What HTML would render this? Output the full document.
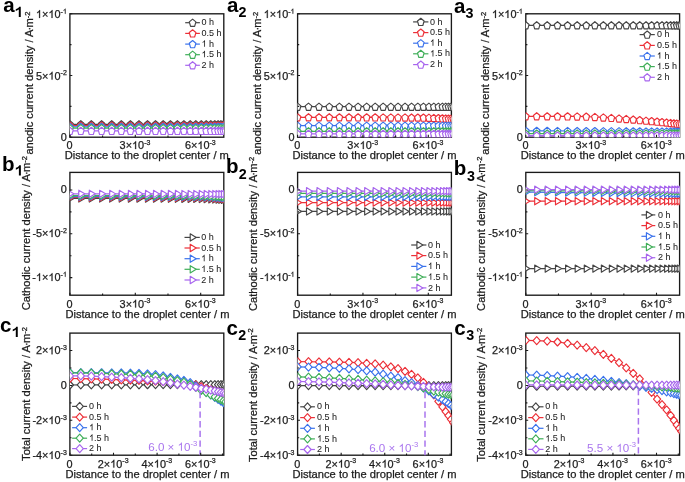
<!DOCTYPE html>
<html><head><meta charset="utf-8"><style>
html,body{margin:0;padding:0;background:#fff;}
body{width:685px;height:482px;overflow:hidden;}
svg{display:block;font-family:"Liberation Sans", sans-serif;will-change:transform;}
.o1{fill-opacity:0;stroke-opacity:0;}
</style></head><body>
<svg width="685" height="482" viewBox="0 0 685 482">
<rect width="685" height="482" fill="#fff"/>
<defs>
<path id="mp" d="M0 -3.6 L3.3 -0.85 L2.04 3.6 L-2.04 3.6 L-3.3 -0.85Z"/>
<path id="mt" d="M-2 -3.65L4 0L-2 3.65Z"/>
<path id="md" d="M0 -4L3.6 0L0 4L-3.6 0Z"/>
<clipPath id="cpa0"><rect x="69.9" y="13.8" width="153.9" height="123.4"/></clipPath>
<clipPath id="cpa1"><rect x="297.6" y="13.8" width="153.8" height="123.4"/></clipPath>
<clipPath id="cpa2"><rect x="525.8" y="13.8" width="153.8" height="123.4"/></clipPath>
<clipPath id="cpb0"><rect x="69.9" y="172.4" width="153.9" height="122.8"/></clipPath>
<clipPath id="cpb1"><rect x="297.6" y="172.4" width="153.8" height="122.8"/></clipPath>
<clipPath id="cpb2"><rect x="525.8" y="172.4" width="153.8" height="122.8"/></clipPath>
<clipPath id="cpc0"><rect x="69.9" y="333.1" width="153.9" height="122.1"/></clipPath>
<clipPath id="cpc1"><rect x="297.6" y="333.1" width="153.8" height="122.1"/></clipPath>
<clipPath id="cpc2"><rect x="525.8" y="333.1" width="153.8" height="122.1"/></clipPath>
</defs>
<rect x="69.9" y="13.8" width="153.9" height="123.4" fill="none" stroke="#1a1a1a" stroke-width="1.35"/>
<g clip-path="url(#cpa0)">
<path d="M69.9 124.3 L80.8 124.3 L91.3 124.3 L101.6 124.3 L111.7 124.3 L121.3 124.3 L130.4 124.3 L139 124.3 L147.5 124.3 L155.5 124.3 L163.2 124.3 L170.4 124.3 L177.4 124.3 L183.9 124.3 L190.2 124.3 L195.8 124.3 L201.3 124.3 L206.2 124.3 L210.8 124.3 L214.8 124.3 L218.1 124.3 L220.9 124.3 L223.4 124.3 L225.5 124.3" fill="none" stroke="#454545" stroke-width="1.2"/>
<g fill="#fff" stroke="#454545" stroke-width="1.15" stroke-linejoin="round"><use href="#mp" x="69.9" y="124.3"/><use href="#mp" x="80.8" y="124.3"/><use href="#mp" x="91.3" y="124.3"/><use href="#mp" x="101.6" y="124.3"/><use href="#mp" x="111.7" y="124.3"/><use href="#mp" x="121.3" y="124.3"/><use href="#mp" x="130.4" y="124.3"/><use href="#mp" x="139" y="124.3"/><use href="#mp" x="147.5" y="124.3"/><use href="#mp" x="155.5" y="124.3"/><use href="#mp" x="163.2" y="124.3"/><use href="#mp" x="170.4" y="124.3"/><use href="#mp" x="177.4" y="124.3"/><use href="#mp" x="183.9" y="124.3"/><use href="#mp" x="190.2" y="124.3"/><use href="#mp" x="195.8" y="124.3"/><use href="#mp" x="201.3" y="124.3"/><use href="#mp" x="206.2" y="124.3"/><use href="#mp" x="210.8" y="124.3"/><use href="#mp" x="214.8" y="124.3"/><use href="#mp" x="218.1" y="124.3"/><use href="#mp" x="220.9" y="124.3"/><use href="#mp" x="223.4" y="124.3"/><use href="#mp" x="225.5" y="124.3"/></g>
<path d="M69.9 125.6 L80.8 125.6 L91.3 125.6 L101.6 125.6 L111.7 125.6 L121.3 125.6 L130.4 125.6 L139 125.6 L147.5 125.6 L155.5 125.6 L163.2 125.6 L170.4 125.6 L177.4 125.6 L183.9 125.6 L190.2 125.6 L195.8 125.6 L201.3 125.6 L206.2 125.6 L210.8 125.6 L214.8 125.6 L218.1 125.6 L220.9 125.6 L223.4 125.6 L225.5 125.6" fill="none" stroke="#ec3038" stroke-width="1.2"/>
<g fill="#fff" stroke="#ec3038" stroke-width="1.15" stroke-linejoin="round"><use href="#mp" x="69.9" y="125.6"/><use href="#mp" x="80.8" y="125.6"/><use href="#mp" x="91.3" y="125.6"/><use href="#mp" x="101.6" y="125.6"/><use href="#mp" x="111.7" y="125.6"/><use href="#mp" x="121.3" y="125.6"/><use href="#mp" x="130.4" y="125.6"/><use href="#mp" x="139" y="125.6"/><use href="#mp" x="147.5" y="125.6"/><use href="#mp" x="155.5" y="125.6"/><use href="#mp" x="163.2" y="125.6"/><use href="#mp" x="170.4" y="125.6"/><use href="#mp" x="177.4" y="125.6"/><use href="#mp" x="183.9" y="125.6"/><use href="#mp" x="190.2" y="125.6"/><use href="#mp" x="195.8" y="125.6"/><use href="#mp" x="201.3" y="125.6"/><use href="#mp" x="206.2" y="125.6"/><use href="#mp" x="210.8" y="125.6"/><use href="#mp" x="214.8" y="125.6"/><use href="#mp" x="218.1" y="125.6"/><use href="#mp" x="220.9" y="125.6"/><use href="#mp" x="223.4" y="125.6"/><use href="#mp" x="225.5" y="125.6"/></g>
<path d="M69.9 126.8 L80.8 126.8 L91.3 126.8 L101.6 126.8 L111.7 126.8 L121.3 126.8 L130.4 126.8 L139 126.8 L147.5 126.8 L155.5 126.8 L163.2 126.8 L170.4 126.8 L177.4 126.8 L183.9 126.8 L190.2 126.8 L195.8 126.8 L201.3 126.8 L206.2 126.8 L210.8 126.8 L214.8 126.8 L218.1 126.8 L220.9 126.8 L223.4 126.8 L225.5 126.8" fill="none" stroke="#3a72ec" stroke-width="1.2"/>
<g fill="#fff" stroke="#3a72ec" stroke-width="1.15" stroke-linejoin="round"><use href="#mp" x="69.9" y="126.8"/><use href="#mp" x="80.8" y="126.8"/><use href="#mp" x="91.3" y="126.8"/><use href="#mp" x="101.6" y="126.8"/><use href="#mp" x="111.7" y="126.8"/><use href="#mp" x="121.3" y="126.8"/><use href="#mp" x="130.4" y="126.8"/><use href="#mp" x="139" y="126.8"/><use href="#mp" x="147.5" y="126.8"/><use href="#mp" x="155.5" y="126.8"/><use href="#mp" x="163.2" y="126.8"/><use href="#mp" x="170.4" y="126.8"/><use href="#mp" x="177.4" y="126.8"/><use href="#mp" x="183.9" y="126.8"/><use href="#mp" x="190.2" y="126.8"/><use href="#mp" x="195.8" y="126.8"/><use href="#mp" x="201.3" y="126.8"/><use href="#mp" x="206.2" y="126.8"/><use href="#mp" x="210.8" y="126.8"/><use href="#mp" x="214.8" y="126.8"/><use href="#mp" x="218.1" y="126.8"/><use href="#mp" x="220.9" y="126.8"/><use href="#mp" x="223.4" y="126.8"/><use href="#mp" x="225.5" y="126.8"/></g>
<path d="M69.9 128.2 L80.8 128.2 L91.3 128.2 L101.6 128.2 L111.7 128.2 L121.3 128.2 L130.4 128.2 L139 128.2 L147.5 128.2 L155.5 128.2 L163.2 128.2 L170.4 128.2 L177.4 128.2 L183.9 128.2 L190.2 128.2 L195.8 128.2 L201.3 128.2 L206.2 128.2 L210.8 128.2 L214.8 128.2 L218.1 128.2 L220.9 128.2 L223.4 128.2 L225.5 128.2" fill="none" stroke="#3fae58" stroke-width="1.2"/>
<g fill="#fff" stroke="#3fae58" stroke-width="1.15" stroke-linejoin="round"><use href="#mp" x="69.9" y="128.2"/><use href="#mp" x="80.8" y="128.2"/><use href="#mp" x="91.3" y="128.2"/><use href="#mp" x="101.6" y="128.2"/><use href="#mp" x="111.7" y="128.2"/><use href="#mp" x="121.3" y="128.2"/><use href="#mp" x="130.4" y="128.2"/><use href="#mp" x="139" y="128.2"/><use href="#mp" x="147.5" y="128.2"/><use href="#mp" x="155.5" y="128.2"/><use href="#mp" x="163.2" y="128.2"/><use href="#mp" x="170.4" y="128.2"/><use href="#mp" x="177.4" y="128.2"/><use href="#mp" x="183.9" y="128.2"/><use href="#mp" x="190.2" y="128.2"/><use href="#mp" x="195.8" y="128.2"/><use href="#mp" x="201.3" y="128.2"/><use href="#mp" x="206.2" y="128.2"/><use href="#mp" x="210.8" y="128.2"/><use href="#mp" x="214.8" y="128.2"/><use href="#mp" x="218.1" y="128.2"/><use href="#mp" x="220.9" y="128.2"/><use href="#mp" x="223.4" y="128.2"/><use href="#mp" x="225.5" y="128.2"/></g>
<path d="M69.9 130.9 L80.8 130.9 L91.3 130.9 L101.6 130.9 L111.7 130.9 L121.3 130.9 L130.4 130.9 L139 130.9 L147.5 130.9 L155.5 130.9 L163.2 130.9 L170.4 130.9 L177.4 130.9 L183.9 130.9 L190.2 130.9 L195.8 130.9 L201.3 130.9 L206.2 130.9 L210.8 130.9 L214.8 130.9 L218.1 130.9 L220.9 130.9 L223.4 130.9 L225.5 130.9" fill="none" stroke="#a866ee" stroke-width="1.2"/>
<g fill="#fff" stroke="#a866ee" stroke-width="1.15" stroke-linejoin="round"><use href="#mp" x="69.9" y="130.9"/><use href="#mp" x="80.8" y="130.9"/><use href="#mp" x="91.3" y="130.9"/><use href="#mp" x="101.6" y="130.9"/><use href="#mp" x="111.7" y="130.9"/><use href="#mp" x="121.3" y="130.9"/><use href="#mp" x="130.4" y="130.9"/><use href="#mp" x="139" y="130.9"/><use href="#mp" x="147.5" y="130.9"/><use href="#mp" x="155.5" y="130.9"/><use href="#mp" x="163.2" y="130.9"/><use href="#mp" x="170.4" y="130.9"/><use href="#mp" x="177.4" y="130.9"/><use href="#mp" x="183.9" y="130.9"/><use href="#mp" x="190.2" y="130.9"/><use href="#mp" x="195.8" y="130.9"/><use href="#mp" x="201.3" y="130.9"/><use href="#mp" x="206.2" y="130.9"/><use href="#mp" x="210.8" y="130.9"/><use href="#mp" x="214.8" y="130.9"/><use href="#mp" x="218.1" y="130.9"/><use href="#mp" x="220.9" y="130.9"/><use href="#mp" x="223.4" y="130.9"/><use href="#mp" x="225.5" y="130.9"/></g>
</g>
<path d="M69.9 13.8h2.4M69.9 75.5h2.4M69.9 137.2h2.4M69.9 106.35h1.6M69.9 44.65h1.6M69.9 137.2v-2.4M135.3 137.2v-2.4M200.69 137.2v-2.4M102.6 137.2v-1.6M167.99 137.2v-1.6" stroke="#1a1a1a" stroke-width="1.1" fill="none"/>
<text x="66.8" y="17.9" font-size="10.9" text-anchor="end" fill="#1c1c1c" stroke="#1c1c1c" stroke-width="0.25"><tspan class="o1">1</tspan>×<tspan class="o1">1</tspan>0<tspan font-size="7" dy="-4.2">-<tspan class="o1">1</tspan></tspan></text>
<text x="66.8" y="79.6" font-size="10.9" text-anchor="end" fill="#1c1c1c" stroke="#1c1c1c" stroke-width="0.25">5×<tspan class="o1">1</tspan>0<tspan font-size="7" dy="-4.2">-2</tspan></text>
<text x="66.8" y="141.3" font-size="10.9" text-anchor="end" fill="#1c1c1c" stroke="#1c1c1c" stroke-width="0.25">0</text>
<text x="69.6" y="149" font-size="10.9" text-anchor="middle" fill="#1c1c1c" stroke="#1c1c1c" stroke-width="0.25">0</text>
<text x="135" y="149" font-size="10.9" text-anchor="middle" fill="#1c1c1c" stroke="#1c1c1c" stroke-width="0.25">3×<tspan class="o1">1</tspan>0<tspan font-size="7" dy="-4.2">-3</tspan></text>
<text x="200.39" y="149" font-size="10.9" text-anchor="middle" fill="#1c1c1c" stroke="#1c1c1c" stroke-width="0.25">6×<tspan class="o1">1</tspan>0<tspan font-size="7" dy="-4.2">-3</tspan></text>
<text x="146.85" y="158.8" font-size="11.15" text-anchor="middle" fill="#1c1c1c" stroke="#1c1c1c" stroke-width="0.25">Distance to the droplet center / m</text>
<text transform="translate(33.3 154.6) rotate(-90)" x="0" y="0" font-size="11.15" fill="#1c1c1c" stroke="#1c1c1c" stroke-width="0.25">anodic current density / A<tspan dx="-0.9">·</tspan><tspan dx="-0.8">m</tspan><tspan font-size="7.6" dy="-3.3">-2</tspan></text>
<path d="M185.2 22.7H199.9" stroke="#454545" stroke-width="1.2"/>
<path d="M192.6 19.1 L195.9 21.85 L194.64 26.3 L190.56 26.3 L189.3 21.85Z" fill="#fff" stroke="#454545" stroke-width="1.15" stroke-linejoin="round"/>
<text x="201.6" y="25.3" font-size="9" text-anchor="start" fill="#1c1c1c" stroke="#1c1c1c" stroke-width="0.05">0 h</text>
<path d="M185.2 33.4H199.9" stroke="#ec3038" stroke-width="1.2"/>
<path d="M192.6 29.8 L195.9 32.55 L194.64 37 L190.56 37 L189.3 32.55Z" fill="#fff" stroke="#ec3038" stroke-width="1.15" stroke-linejoin="round"/>
<text x="201.6" y="36" font-size="9" text-anchor="start" fill="#1c1c1c" stroke="#1c1c1c" stroke-width="0.05">0.5 h</text>
<path d="M185.2 44.1H199.9" stroke="#3a72ec" stroke-width="1.2"/>
<path d="M192.6 40.5 L195.9 43.25 L194.64 47.7 L190.56 47.7 L189.3 43.25Z" fill="#fff" stroke="#3a72ec" stroke-width="1.15" stroke-linejoin="round"/>
<text x="201.6" y="46.7" font-size="9" text-anchor="start" fill="#1c1c1c" stroke="#1c1c1c" stroke-width="0.05"><tspan class="o1">1</tspan> h</text>
<path d="M185.2 54.7H199.9" stroke="#3fae58" stroke-width="1.2"/>
<path d="M192.6 51.1 L195.9 53.85 L194.64 58.3 L190.56 58.3 L189.3 53.85Z" fill="#fff" stroke="#3fae58" stroke-width="1.15" stroke-linejoin="round"/>
<text x="201.6" y="57.3" font-size="9" text-anchor="start" fill="#1c1c1c" stroke="#1c1c1c" stroke-width="0.05"><tspan class="o1">1</tspan>.5 h</text>
<path d="M185.2 65.3H199.9" stroke="#a866ee" stroke-width="1.2"/>
<path d="M192.6 61.7 L195.9 64.45 L194.64 68.9 L190.56 68.9 L189.3 64.45Z" fill="#fff" stroke="#a866ee" stroke-width="1.15" stroke-linejoin="round"/>
<text x="201.6" y="67.9" font-size="9" text-anchor="start" fill="#1c1c1c" stroke="#1c1c1c" stroke-width="0.05">2 h</text>
<text x="3.3" y="12" font-size="20.5" font-weight="bold" fill="#000">a</text>
<text x="14.9" y="16.9" font-size="14.3" font-weight="bold" fill="#000"><tspan class="o1">1</tspan></text>
<rect x="297.6" y="13.8" width="153.8" height="123.4" fill="none" stroke="#1a1a1a" stroke-width="1.35"/>
<g clip-path="url(#cpa1)">
<path d="M297.6 106.7 L308.49 106.7 L318.99 106.7 L329.28 106.7 L339.37 106.7 L348.97 106.7 L358.06 106.7 L366.66 106.7 L375.15 106.7 L383.14 106.7 L390.84 106.7 L398.03 106.7 L405.03 106.7 L411.53 106.7 L417.82 106.7 L423.42 106.7 L428.91 106.7 L433.81 106.7 L438.41 106.7 L442.41 106.7 L445.7 106.7 L448.5 106.7 L451 106.7 L453.1 106.7" fill="none" stroke="#454545" stroke-width="1.2"/>
<g fill="#fff" stroke="#454545" stroke-width="1.15" stroke-linejoin="round"><use href="#mp" x="297.6" y="106.7"/><use href="#mp" x="308.49" y="106.7"/><use href="#mp" x="318.99" y="106.7"/><use href="#mp" x="329.28" y="106.7"/><use href="#mp" x="339.37" y="106.7"/><use href="#mp" x="348.97" y="106.7"/><use href="#mp" x="358.06" y="106.7"/><use href="#mp" x="366.66" y="106.7"/><use href="#mp" x="375.15" y="106.7"/><use href="#mp" x="383.14" y="106.7"/><use href="#mp" x="390.84" y="106.7"/><use href="#mp" x="398.03" y="106.7"/><use href="#mp" x="405.03" y="106.7"/><use href="#mp" x="411.53" y="106.7"/><use href="#mp" x="417.82" y="106.7"/><use href="#mp" x="423.42" y="106.7"/><use href="#mp" x="428.91" y="106.7"/><use href="#mp" x="433.81" y="106.7"/><use href="#mp" x="438.41" y="106.7"/><use href="#mp" x="442.41" y="106.7"/><use href="#mp" x="445.7" y="106.7"/><use href="#mp" x="448.5" y="106.7"/><use href="#mp" x="451" y="106.7"/><use href="#mp" x="453.1" y="106.7"/></g>
<path d="M297.6 117.3 L308.49 117.3 L318.99 117.31 L329.28 117.32 L339.37 117.33 L348.97 117.34 L358.06 117.36 L366.66 117.38 L375.15 117.41 L383.14 117.43 L390.84 117.46 L398.03 117.49 L405.03 117.52 L411.53 117.55 L417.82 117.58 L423.42 117.63 L428.91 117.76 L433.81 117.95 L438.41 118.16 L442.41 118.35 L445.7 118.52 L448.5 118.66 L451 118.78 L453.1 118.88" fill="none" stroke="#ec3038" stroke-width="1.2"/>
<g fill="#fff" stroke="#ec3038" stroke-width="1.15" stroke-linejoin="round"><use href="#mp" x="297.6" y="117.3"/><use href="#mp" x="308.49" y="117.3"/><use href="#mp" x="318.99" y="117.31"/><use href="#mp" x="329.28" y="117.32"/><use href="#mp" x="339.37" y="117.33"/><use href="#mp" x="348.97" y="117.34"/><use href="#mp" x="358.06" y="117.36"/><use href="#mp" x="366.66" y="117.38"/><use href="#mp" x="375.15" y="117.41"/><use href="#mp" x="383.14" y="117.43"/><use href="#mp" x="390.84" y="117.46"/><use href="#mp" x="398.03" y="117.49"/><use href="#mp" x="405.03" y="117.52"/><use href="#mp" x="411.53" y="117.55"/><use href="#mp" x="417.82" y="117.58"/><use href="#mp" x="423.42" y="117.63"/><use href="#mp" x="428.91" y="117.76"/><use href="#mp" x="433.81" y="117.95"/><use href="#mp" x="438.41" y="118.16"/><use href="#mp" x="442.41" y="118.35"/><use href="#mp" x="445.7" y="118.52"/><use href="#mp" x="448.5" y="118.66"/><use href="#mp" x="451" y="118.78"/><use href="#mp" x="453.1" y="118.88"/></g>
<path d="M297.6 125.7 L308.49 125.7 L318.99 125.7 L329.28 125.7 L339.37 125.7 L348.97 125.7 L358.06 125.7 L366.66 125.7 L375.15 125.7 L383.14 125.7 L390.84 125.7 L398.03 125.7 L405.03 125.7 L411.53 125.7 L417.82 125.7 L423.42 125.7 L428.91 125.7 L433.81 125.7 L438.41 125.7 L442.41 125.7 L445.7 125.7 L448.5 125.7 L451 125.7 L453.1 125.7" fill="none" stroke="#3a72ec" stroke-width="1.2"/>
<g fill="#fff" stroke="#3a72ec" stroke-width="1.15" stroke-linejoin="round"><use href="#mp" x="297.6" y="125.7"/><use href="#mp" x="308.49" y="125.7"/><use href="#mp" x="318.99" y="125.7"/><use href="#mp" x="329.28" y="125.7"/><use href="#mp" x="339.37" y="125.7"/><use href="#mp" x="348.97" y="125.7"/><use href="#mp" x="358.06" y="125.7"/><use href="#mp" x="366.66" y="125.7"/><use href="#mp" x="375.15" y="125.7"/><use href="#mp" x="383.14" y="125.7"/><use href="#mp" x="390.84" y="125.7"/><use href="#mp" x="398.03" y="125.7"/><use href="#mp" x="405.03" y="125.7"/><use href="#mp" x="411.53" y="125.7"/><use href="#mp" x="417.82" y="125.7"/><use href="#mp" x="423.42" y="125.7"/><use href="#mp" x="428.91" y="125.7"/><use href="#mp" x="433.81" y="125.7"/><use href="#mp" x="438.41" y="125.7"/><use href="#mp" x="442.41" y="125.7"/><use href="#mp" x="445.7" y="125.7"/><use href="#mp" x="448.5" y="125.7"/><use href="#mp" x="451" y="125.7"/><use href="#mp" x="453.1" y="125.7"/></g>
<path d="M297.6 131.3 L308.49 131.3 L318.99 131.3 L329.28 131.3 L339.37 131.3 L348.97 131.3 L358.06 131.3 L366.66 131.3 L375.15 131.3 L383.14 131.3 L390.84 131.3 L398.03 131.3 L405.03 131.3 L411.53 131.3 L417.82 131.3 L423.42 131.3 L428.91 131.3 L433.81 131.3 L438.41 131.3 L442.41 131.3 L445.7 131.3 L448.5 131.3 L451 131.3 L453.1 131.3" fill="none" stroke="#3fae58" stroke-width="1.2"/>
<g fill="#fff" stroke="#3fae58" stroke-width="1.15" stroke-linejoin="round"><use href="#mp" x="297.6" y="131.3"/><use href="#mp" x="308.49" y="131.3"/><use href="#mp" x="318.99" y="131.3"/><use href="#mp" x="329.28" y="131.3"/><use href="#mp" x="339.37" y="131.3"/><use href="#mp" x="348.97" y="131.3"/><use href="#mp" x="358.06" y="131.3"/><use href="#mp" x="366.66" y="131.3"/><use href="#mp" x="375.15" y="131.3"/><use href="#mp" x="383.14" y="131.3"/><use href="#mp" x="390.84" y="131.3"/><use href="#mp" x="398.03" y="131.3"/><use href="#mp" x="405.03" y="131.3"/><use href="#mp" x="411.53" y="131.3"/><use href="#mp" x="417.82" y="131.3"/><use href="#mp" x="423.42" y="131.3"/><use href="#mp" x="428.91" y="131.3"/><use href="#mp" x="433.81" y="131.3"/><use href="#mp" x="438.41" y="131.3"/><use href="#mp" x="442.41" y="131.3"/><use href="#mp" x="445.7" y="131.3"/><use href="#mp" x="448.5" y="131.3"/><use href="#mp" x="451" y="131.3"/><use href="#mp" x="453.1" y="131.3"/></g>
<path d="M297.6 133.9 L308.49 133.9 L318.99 133.9 L329.28 133.9 L339.37 133.9 L348.97 133.9 L358.06 133.9 L366.66 133.9 L375.15 133.9 L383.14 133.9 L390.84 133.9 L398.03 133.9 L405.03 133.9 L411.53 133.9 L417.82 133.9 L423.42 133.9 L428.91 133.9 L433.81 133.9 L438.41 133.9 L442.41 133.9 L445.7 133.9 L448.5 133.9 L451 133.9 L453.1 133.9" fill="none" stroke="#a866ee" stroke-width="1.2"/>
<g fill="#fff" stroke="#a866ee" stroke-width="1.15" stroke-linejoin="round"><use href="#mp" x="297.6" y="133.9"/><use href="#mp" x="308.49" y="133.9"/><use href="#mp" x="318.99" y="133.9"/><use href="#mp" x="329.28" y="133.9"/><use href="#mp" x="339.37" y="133.9"/><use href="#mp" x="348.97" y="133.9"/><use href="#mp" x="358.06" y="133.9"/><use href="#mp" x="366.66" y="133.9"/><use href="#mp" x="375.15" y="133.9"/><use href="#mp" x="383.14" y="133.9"/><use href="#mp" x="390.84" y="133.9"/><use href="#mp" x="398.03" y="133.9"/><use href="#mp" x="405.03" y="133.9"/><use href="#mp" x="411.53" y="133.9"/><use href="#mp" x="417.82" y="133.9"/><use href="#mp" x="423.42" y="133.9"/><use href="#mp" x="428.91" y="133.9"/><use href="#mp" x="433.81" y="133.9"/><use href="#mp" x="438.41" y="133.9"/><use href="#mp" x="442.41" y="133.9"/><use href="#mp" x="445.7" y="133.9"/><use href="#mp" x="448.5" y="133.9"/><use href="#mp" x="451" y="133.9"/><use href="#mp" x="453.1" y="133.9"/></g>
</g>
<path d="M297.6 13.8h2.4M297.6 75.5h2.4M297.6 137.2h2.4M297.6 106.35h1.6M297.6 44.65h1.6M297.6 137.2v-2.4M362.95 137.2v-2.4M428.31 137.2v-2.4M330.28 137.2v-1.6M395.63 137.2v-1.6" stroke="#1a1a1a" stroke-width="1.1" fill="none"/>
<text x="294.5" y="17.9" font-size="10.9" text-anchor="end" fill="#1c1c1c" stroke="#1c1c1c" stroke-width="0.25"><tspan class="o1">1</tspan>×<tspan class="o1">1</tspan>0<tspan font-size="7" dy="-4.2">-<tspan class="o1">1</tspan></tspan></text>
<text x="294.5" y="79.6" font-size="10.9" text-anchor="end" fill="#1c1c1c" stroke="#1c1c1c" stroke-width="0.25">5×<tspan class="o1">1</tspan>0<tspan font-size="7" dy="-4.2">-2</tspan></text>
<text x="294.5" y="141.3" font-size="10.9" text-anchor="end" fill="#1c1c1c" stroke="#1c1c1c" stroke-width="0.25">0</text>
<text x="297.3" y="149" font-size="10.9" text-anchor="middle" fill="#1c1c1c" stroke="#1c1c1c" stroke-width="0.25">0</text>
<text x="362.65" y="149" font-size="10.9" text-anchor="middle" fill="#1c1c1c" stroke="#1c1c1c" stroke-width="0.25">3×<tspan class="o1">1</tspan>0<tspan font-size="7" dy="-4.2">-3</tspan></text>
<text x="428.01" y="149" font-size="10.9" text-anchor="middle" fill="#1c1c1c" stroke="#1c1c1c" stroke-width="0.25">6×<tspan class="o1">1</tspan>0<tspan font-size="7" dy="-4.2">-3</tspan></text>
<text x="374.5" y="158.8" font-size="11.15" text-anchor="middle" fill="#1c1c1c" stroke="#1c1c1c" stroke-width="0.25">Distance to the droplet center / m</text>
<text transform="translate(261 154.8) rotate(-90)" x="0" y="0" font-size="11.15" fill="#1c1c1c" stroke="#1c1c1c" stroke-width="0.25">anodic current density / A<tspan dx="-0.9">·</tspan><tspan dx="-0.8">m</tspan><tspan font-size="7.6" dy="-3.3">-2</tspan></text>
<path d="M413.1 21.9H428.4" stroke="#454545" stroke-width="1.2"/>
<path d="M420.8 18.3 L424.1 21.05 L422.84 25.5 L418.76 25.5 L417.5 21.05Z" fill="#fff" stroke="#454545" stroke-width="1.15" stroke-linejoin="round"/>
<text x="430" y="24.5" font-size="9" text-anchor="start" fill="#1c1c1c" stroke="#1c1c1c" stroke-width="0.05">0 h</text>
<path d="M413.1 32.6H428.4" stroke="#ec3038" stroke-width="1.2"/>
<path d="M420.8 29 L424.1 31.75 L422.84 36.2 L418.76 36.2 L417.5 31.75Z" fill="#fff" stroke="#ec3038" stroke-width="1.15" stroke-linejoin="round"/>
<text x="430" y="35.2" font-size="9" text-anchor="start" fill="#1c1c1c" stroke="#1c1c1c" stroke-width="0.05">0.5 h</text>
<path d="M413.1 43.2H428.4" stroke="#3a72ec" stroke-width="1.2"/>
<path d="M420.8 39.6 L424.1 42.35 L422.84 46.8 L418.76 46.8 L417.5 42.35Z" fill="#fff" stroke="#3a72ec" stroke-width="1.15" stroke-linejoin="round"/>
<text x="430" y="45.8" font-size="9" text-anchor="start" fill="#1c1c1c" stroke="#1c1c1c" stroke-width="0.05"><tspan class="o1">1</tspan> h</text>
<path d="M413.1 53.8H428.4" stroke="#3fae58" stroke-width="1.2"/>
<path d="M420.8 50.2 L424.1 52.95 L422.84 57.4 L418.76 57.4 L417.5 52.95Z" fill="#fff" stroke="#3fae58" stroke-width="1.15" stroke-linejoin="round"/>
<text x="430" y="56.4" font-size="9" text-anchor="start" fill="#1c1c1c" stroke="#1c1c1c" stroke-width="0.05"><tspan class="o1">1</tspan>.5 h</text>
<path d="M413.1 64.6H428.4" stroke="#a866ee" stroke-width="1.2"/>
<path d="M420.8 61 L424.1 63.75 L422.84 68.2 L418.76 68.2 L417.5 63.75Z" fill="#fff" stroke="#a866ee" stroke-width="1.15" stroke-linejoin="round"/>
<text x="430" y="67.2" font-size="9" text-anchor="start" fill="#1c1c1c" stroke="#1c1c1c" stroke-width="0.05">2 h</text>
<text x="227" y="11.8" font-size="20.5" font-weight="bold" fill="#000">a</text>
<text x="238.5" y="16.9" font-size="14.3" font-weight="bold" fill="#000">2</text>
<rect x="525.8" y="13.8" width="153.8" height="123.4" fill="none" stroke="#1a1a1a" stroke-width="1.35"/>
<g clip-path="url(#cpa2)">
<path d="M525.8 25.3 L536.69 25.3 L547.19 25.3 L557.48 25.3 L567.57 25.3 L577.17 25.3 L586.26 25.3 L594.86 25.3 L603.35 25.3 L611.34 25.3 L619.04 25.3 L626.23 25.3 L633.23 25.3 L639.73 25.3 L646.02 25.3 L651.62 25.3 L657.11 25.3 L662.01 25.3 L666.61 25.3 L670.61 25.3 L673.9 25.3 L676.7 25.3 L679.2 25.3 L681.3 25.3" fill="none" stroke="#454545" stroke-width="1.2"/>
<g fill="#fff" stroke="#454545" stroke-width="1.15" stroke-linejoin="round"><use href="#mp" x="525.8" y="25.3"/><use href="#mp" x="536.69" y="25.3"/><use href="#mp" x="547.19" y="25.3"/><use href="#mp" x="557.48" y="25.3"/><use href="#mp" x="567.57" y="25.3"/><use href="#mp" x="577.17" y="25.3"/><use href="#mp" x="586.26" y="25.3"/><use href="#mp" x="594.86" y="25.3"/><use href="#mp" x="603.35" y="25.3"/><use href="#mp" x="611.34" y="25.3"/><use href="#mp" x="619.04" y="25.3"/><use href="#mp" x="626.23" y="25.3"/><use href="#mp" x="633.23" y="25.3"/><use href="#mp" x="639.73" y="25.3"/><use href="#mp" x="646.02" y="25.3"/><use href="#mp" x="651.62" y="25.3"/><use href="#mp" x="657.11" y="25.3"/><use href="#mp" x="662.01" y="25.3"/><use href="#mp" x="666.61" y="25.3"/><use href="#mp" x="670.61" y="25.3"/><use href="#mp" x="673.9" y="25.3"/><use href="#mp" x="676.7" y="25.3"/><use href="#mp" x="679.2" y="25.3"/><use href="#mp" x="681.3" y="25.3"/></g>
<path d="M525.8 116.3 L536.69 116.31 L547.19 116.33 L557.48 116.36 L567.57 116.41 L577.17 116.47 L586.26 116.6 L594.86 116.98 L603.35 117.47 L611.34 117.94 L619.04 118.45 L626.23 118.98 L633.23 119.54 L639.73 120.11 L646.02 120.67 L651.62 121.16 L657.11 121.65 L662.01 122.1 L666.61 122.55 L670.61 122.96 L673.9 123.33 L676.7 123.66 L679.2 123.95 L681.3 124.21" fill="none" stroke="#ec3038" stroke-width="1.2"/>
<g fill="#fff" stroke="#ec3038" stroke-width="1.15" stroke-linejoin="round"><use href="#mp" x="525.8" y="116.3"/><use href="#mp" x="536.69" y="116.31"/><use href="#mp" x="547.19" y="116.33"/><use href="#mp" x="557.48" y="116.36"/><use href="#mp" x="567.57" y="116.41"/><use href="#mp" x="577.17" y="116.47"/><use href="#mp" x="586.26" y="116.6"/><use href="#mp" x="594.86" y="116.98"/><use href="#mp" x="603.35" y="117.47"/><use href="#mp" x="611.34" y="117.94"/><use href="#mp" x="619.04" y="118.45"/><use href="#mp" x="626.23" y="118.98"/><use href="#mp" x="633.23" y="119.54"/><use href="#mp" x="639.73" y="120.11"/><use href="#mp" x="646.02" y="120.67"/><use href="#mp" x="651.62" y="121.16"/><use href="#mp" x="657.11" y="121.65"/><use href="#mp" x="662.01" y="122.1"/><use href="#mp" x="666.61" y="122.55"/><use href="#mp" x="670.61" y="122.96"/><use href="#mp" x="673.9" y="123.33"/><use href="#mp" x="676.7" y="123.66"/><use href="#mp" x="679.2" y="123.95"/><use href="#mp" x="681.3" y="124.21"/></g>
<path d="M525.8 130.8 L536.69 130.86 L547.19 130.91 L557.48 130.96 L567.57 131.02 L577.17 131.07 L586.26 131.11 L594.86 131.16 L603.35 131.2 L611.34 131.24 L619.04 131.28 L626.23 131.32 L633.23 131.36 L639.73 131.39 L646.02 131.43 L651.62 131.45 L657.11 131.48 L662.01 131.51 L666.61 131.53 L670.61 131.55 L673.9 131.57 L676.7 131.58 L679.2 131.6 L681.3 131.61" fill="none" stroke="#3a72ec" stroke-width="1.2"/>
<g fill="#fff" stroke="#3a72ec" stroke-width="1.15" stroke-linejoin="round"><use href="#mp" x="525.8" y="130.8"/><use href="#mp" x="536.69" y="130.86"/><use href="#mp" x="547.19" y="130.91"/><use href="#mp" x="557.48" y="130.96"/><use href="#mp" x="567.57" y="131.02"/><use href="#mp" x="577.17" y="131.07"/><use href="#mp" x="586.26" y="131.11"/><use href="#mp" x="594.86" y="131.16"/><use href="#mp" x="603.35" y="131.2"/><use href="#mp" x="611.34" y="131.24"/><use href="#mp" x="619.04" y="131.28"/><use href="#mp" x="626.23" y="131.32"/><use href="#mp" x="633.23" y="131.36"/><use href="#mp" x="639.73" y="131.39"/><use href="#mp" x="646.02" y="131.43"/><use href="#mp" x="651.62" y="131.45"/><use href="#mp" x="657.11" y="131.48"/><use href="#mp" x="662.01" y="131.51"/><use href="#mp" x="666.61" y="131.53"/><use href="#mp" x="670.61" y="131.55"/><use href="#mp" x="673.9" y="131.57"/><use href="#mp" x="676.7" y="131.58"/><use href="#mp" x="679.2" y="131.6"/><use href="#mp" x="681.3" y="131.61"/></g>
<path d="M525.8 133.6 L536.69 133.59 L547.19 133.57 L557.48 133.56 L567.57 133.55 L577.17 133.53 L586.26 133.52 L594.86 133.51 L603.35 133.5 L611.34 133.49 L619.04 133.48 L626.23 133.47 L633.23 133.46 L639.73 133.45 L646.02 133.44 L651.62 133.44 L657.11 133.43 L662.01 133.42 L666.61 133.42 L670.61 133.41 L673.9 133.41 L676.7 133.4 L679.2 133.4 L681.3 133.4" fill="none" stroke="#3fae58" stroke-width="1.2"/>
<g fill="#fff" stroke="#3fae58" stroke-width="1.15" stroke-linejoin="round"><use href="#mp" x="525.8" y="133.6"/><use href="#mp" x="536.69" y="133.59"/><use href="#mp" x="547.19" y="133.57"/><use href="#mp" x="557.48" y="133.56"/><use href="#mp" x="567.57" y="133.55"/><use href="#mp" x="577.17" y="133.53"/><use href="#mp" x="586.26" y="133.52"/><use href="#mp" x="594.86" y="133.51"/><use href="#mp" x="603.35" y="133.5"/><use href="#mp" x="611.34" y="133.49"/><use href="#mp" x="619.04" y="133.48"/><use href="#mp" x="626.23" y="133.47"/><use href="#mp" x="633.23" y="133.46"/><use href="#mp" x="639.73" y="133.45"/><use href="#mp" x="646.02" y="133.44"/><use href="#mp" x="651.62" y="133.44"/><use href="#mp" x="657.11" y="133.43"/><use href="#mp" x="662.01" y="133.42"/><use href="#mp" x="666.61" y="133.42"/><use href="#mp" x="670.61" y="133.41"/><use href="#mp" x="673.9" y="133.41"/><use href="#mp" x="676.7" y="133.4"/><use href="#mp" x="679.2" y="133.4"/><use href="#mp" x="681.3" y="133.4"/></g>
<path d="M525.8 135.6 L536.69 135.6 L547.19 135.6 L557.48 135.6 L567.57 135.6 L577.17 135.6 L586.26 135.6 L594.86 135.6 L603.35 135.6 L611.34 135.6 L619.04 135.6 L626.23 135.6 L633.23 135.6 L639.73 135.6 L646.02 135.6 L651.62 135.6 L657.11 135.6 L662.01 135.6 L666.61 135.6 L670.61 135.6 L673.9 135.6 L676.7 135.6 L679.2 135.6 L681.3 135.6" fill="none" stroke="#a866ee" stroke-width="1.2"/>
<g fill="#fff" stroke="#a866ee" stroke-width="1.15" stroke-linejoin="round"><use href="#mp" x="525.8" y="135.6"/><use href="#mp" x="536.69" y="135.6"/><use href="#mp" x="547.19" y="135.6"/><use href="#mp" x="557.48" y="135.6"/><use href="#mp" x="567.57" y="135.6"/><use href="#mp" x="577.17" y="135.6"/><use href="#mp" x="586.26" y="135.6"/><use href="#mp" x="594.86" y="135.6"/><use href="#mp" x="603.35" y="135.6"/><use href="#mp" x="611.34" y="135.6"/><use href="#mp" x="619.04" y="135.6"/><use href="#mp" x="626.23" y="135.6"/><use href="#mp" x="633.23" y="135.6"/><use href="#mp" x="639.73" y="135.6"/><use href="#mp" x="646.02" y="135.6"/><use href="#mp" x="651.62" y="135.6"/><use href="#mp" x="657.11" y="135.6"/><use href="#mp" x="662.01" y="135.6"/><use href="#mp" x="666.61" y="135.6"/><use href="#mp" x="670.61" y="135.6"/><use href="#mp" x="673.9" y="135.6"/><use href="#mp" x="676.7" y="135.6"/><use href="#mp" x="679.2" y="135.6"/><use href="#mp" x="681.3" y="135.6"/></g>
</g>
<path d="M525.8 13.8h2.4M525.8 75.5h2.4M525.8 137.2h2.4M525.8 106.35h1.6M525.8 44.65h1.6M525.8 137.2v-2.4M591.15 137.2v-2.4M656.51 137.2v-2.4M558.48 137.2v-1.6M623.83 137.2v-1.6" stroke="#1a1a1a" stroke-width="1.1" fill="none"/>
<text x="522.7" y="17.9" font-size="10.9" text-anchor="end" fill="#1c1c1c" stroke="#1c1c1c" stroke-width="0.25"><tspan class="o1">1</tspan>×<tspan class="o1">1</tspan>0<tspan font-size="7" dy="-4.2">-<tspan class="o1">1</tspan></tspan></text>
<text x="522.7" y="79.6" font-size="10.9" text-anchor="end" fill="#1c1c1c" stroke="#1c1c1c" stroke-width="0.25">5×<tspan class="o1">1</tspan>0<tspan font-size="7" dy="-4.2">-2</tspan></text>
<text x="522.7" y="141.3" font-size="10.9" text-anchor="end" fill="#1c1c1c" stroke="#1c1c1c" stroke-width="0.25">0</text>
<text x="525.5" y="149" font-size="10.9" text-anchor="middle" fill="#1c1c1c" stroke="#1c1c1c" stroke-width="0.25">0</text>
<text x="590.85" y="149" font-size="10.9" text-anchor="middle" fill="#1c1c1c" stroke="#1c1c1c" stroke-width="0.25">3×<tspan class="o1">1</tspan>0<tspan font-size="7" dy="-4.2">-3</tspan></text>
<text x="656.21" y="149" font-size="10.9" text-anchor="middle" fill="#1c1c1c" stroke="#1c1c1c" stroke-width="0.25">6×<tspan class="o1">1</tspan>0<tspan font-size="7" dy="-4.2">-3</tspan></text>
<text x="602.7" y="158.8" font-size="11.15" text-anchor="middle" fill="#1c1c1c" stroke="#1c1c1c" stroke-width="0.25">Distance to the droplet center / m</text>
<text transform="translate(489.2 154.8) rotate(-90)" x="0" y="0" font-size="11.15" fill="#1c1c1c" stroke="#1c1c1c" stroke-width="0.25">anodic current density / A<tspan dx="-0.9">·</tspan><tspan dx="-0.8">m</tspan><tspan font-size="7.6" dy="-3.3">-2</tspan></text>
<path d="M639.6 34.6H654.8" stroke="#454545" stroke-width="1.2"/>
<path d="M647.2 31 L650.5 33.75 L649.24 38.2 L645.16 38.2 L643.9 33.75Z" fill="#fff" stroke="#454545" stroke-width="1.15" stroke-linejoin="round"/>
<text x="656.9" y="37.2" font-size="9" text-anchor="start" fill="#1c1c1c" stroke="#1c1c1c" stroke-width="0.05">0 h</text>
<path d="M639.6 45.4H654.8" stroke="#ec3038" stroke-width="1.2"/>
<path d="M647.2 41.8 L650.5 44.55 L649.24 49 L645.16 49 L643.9 44.55Z" fill="#fff" stroke="#ec3038" stroke-width="1.15" stroke-linejoin="round"/>
<text x="656.9" y="48" font-size="9" text-anchor="start" fill="#1c1c1c" stroke="#1c1c1c" stroke-width="0.05">0.5 h</text>
<path d="M639.6 56H654.8" stroke="#3a72ec" stroke-width="1.2"/>
<path d="M647.2 52.4 L650.5 55.15 L649.24 59.6 L645.16 59.6 L643.9 55.15Z" fill="#fff" stroke="#3a72ec" stroke-width="1.15" stroke-linejoin="round"/>
<text x="656.9" y="58.6" font-size="9" text-anchor="start" fill="#1c1c1c" stroke="#1c1c1c" stroke-width="0.05"><tspan class="o1">1</tspan> h</text>
<path d="M639.6 66.6H654.8" stroke="#3fae58" stroke-width="1.2"/>
<path d="M647.2 63 L650.5 65.75 L649.24 70.2 L645.16 70.2 L643.9 65.75Z" fill="#fff" stroke="#3fae58" stroke-width="1.15" stroke-linejoin="round"/>
<text x="656.9" y="69.2" font-size="9" text-anchor="start" fill="#1c1c1c" stroke="#1c1c1c" stroke-width="0.05"><tspan class="o1">1</tspan>.5 h</text>
<path d="M639.6 77.3H654.8" stroke="#a866ee" stroke-width="1.2"/>
<path d="M647.2 73.7 L650.5 76.45 L649.24 80.9 L645.16 80.9 L643.9 76.45Z" fill="#fff" stroke="#a866ee" stroke-width="1.15" stroke-linejoin="round"/>
<text x="656.9" y="79.9" font-size="9" text-anchor="start" fill="#1c1c1c" stroke="#1c1c1c" stroke-width="0.05">2 h</text>
<text x="454.1" y="12.6" font-size="20.5" font-weight="bold" fill="#000">a</text>
<text x="465.4" y="17.7" font-size="14.3" font-weight="bold" fill="#000">3</text>
<rect x="69.9" y="172.4" width="153.9" height="122.8" fill="none" stroke="#1a1a1a" stroke-width="1.35"/>
<g clip-path="url(#cpb0)">
<path d="M69.9 198.4 L80.8 198.4 L91.3 198.41 L101.6 198.42 L111.7 198.44 L121.3 198.46 L130.4 198.49 L139 198.52 L147.5 198.55 L155.5 198.58 L163.2 198.62 L170.4 198.66 L177.4 198.7 L183.9 198.74 L190.2 198.78 L195.8 198.83 L201.3 198.95 L206.2 199.1 L210.8 199.27 L214.8 199.43 L218.1 199.57 L220.9 199.69 L223.4 199.78 L225.5 199.86" fill="none" stroke="#454545" stroke-width="1.2"/>
<g fill="#fff" stroke="#454545" stroke-width="1.15" stroke-linejoin="round"><use href="#mt" x="69.9" y="198.4"/><use href="#mt" x="80.8" y="198.4"/><use href="#mt" x="91.3" y="198.41"/><use href="#mt" x="101.6" y="198.42"/><use href="#mt" x="111.7" y="198.44"/><use href="#mt" x="121.3" y="198.46"/><use href="#mt" x="130.4" y="198.49"/><use href="#mt" x="139" y="198.52"/><use href="#mt" x="147.5" y="198.55"/><use href="#mt" x="155.5" y="198.58"/><use href="#mt" x="163.2" y="198.62"/><use href="#mt" x="170.4" y="198.66"/><use href="#mt" x="177.4" y="198.7"/><use href="#mt" x="183.9" y="198.74"/><use href="#mt" x="190.2" y="198.78"/><use href="#mt" x="195.8" y="198.83"/><use href="#mt" x="201.3" y="198.95"/><use href="#mt" x="206.2" y="199.1"/><use href="#mt" x="210.8" y="199.27"/><use href="#mt" x="214.8" y="199.43"/><use href="#mt" x="218.1" y="199.57"/><use href="#mt" x="220.9" y="199.69"/><use href="#mt" x="223.4" y="199.78"/><use href="#mt" x="225.5" y="199.86"/></g>
<path d="M69.9 197.5 L80.8 197.5 L91.3 197.51 L101.6 197.52 L111.7 197.54 L121.3 197.56 L130.4 197.59 L139 197.62 L147.5 197.65 L155.5 197.68 L163.2 197.72 L170.4 197.76 L177.4 197.8 L183.9 197.84 L190.2 197.88 L195.8 197.93 L201.3 198.05 L206.2 198.2 L210.8 198.37 L214.8 198.53 L218.1 198.67 L220.9 198.79 L223.4 198.88 L225.5 198.96" fill="none" stroke="#ec3038" stroke-width="1.2"/>
<g fill="#fff" stroke="#ec3038" stroke-width="1.15" stroke-linejoin="round"><use href="#mt" x="69.9" y="197.5"/><use href="#mt" x="80.8" y="197.5"/><use href="#mt" x="91.3" y="197.51"/><use href="#mt" x="101.6" y="197.52"/><use href="#mt" x="111.7" y="197.54"/><use href="#mt" x="121.3" y="197.56"/><use href="#mt" x="130.4" y="197.59"/><use href="#mt" x="139" y="197.62"/><use href="#mt" x="147.5" y="197.65"/><use href="#mt" x="155.5" y="197.68"/><use href="#mt" x="163.2" y="197.72"/><use href="#mt" x="170.4" y="197.76"/><use href="#mt" x="177.4" y="197.8"/><use href="#mt" x="183.9" y="197.84"/><use href="#mt" x="190.2" y="197.88"/><use href="#mt" x="195.8" y="197.93"/><use href="#mt" x="201.3" y="198.05"/><use href="#mt" x="206.2" y="198.2"/><use href="#mt" x="210.8" y="198.37"/><use href="#mt" x="214.8" y="198.53"/><use href="#mt" x="218.1" y="198.67"/><use href="#mt" x="220.9" y="198.79"/><use href="#mt" x="223.4" y="198.88"/><use href="#mt" x="225.5" y="198.96"/></g>
<path d="M69.9 196.6 L80.8 196.6 L91.3 196.61 L101.6 196.62 L111.7 196.64 L121.3 196.66 L130.4 196.69 L139 196.72 L147.5 196.75 L155.5 196.78 L163.2 196.82 L170.4 196.86 L177.4 196.9 L183.9 196.94 L190.2 196.98 L195.8 197.03 L201.3 197.15 L206.2 197.3 L210.8 197.47 L214.8 197.63 L218.1 197.77 L220.9 197.89 L223.4 197.98 L225.5 198.06" fill="none" stroke="#3a72ec" stroke-width="1.2"/>
<g fill="#fff" stroke="#3a72ec" stroke-width="1.15" stroke-linejoin="round"><use href="#mt" x="69.9" y="196.6"/><use href="#mt" x="80.8" y="196.6"/><use href="#mt" x="91.3" y="196.61"/><use href="#mt" x="101.6" y="196.62"/><use href="#mt" x="111.7" y="196.64"/><use href="#mt" x="121.3" y="196.66"/><use href="#mt" x="130.4" y="196.69"/><use href="#mt" x="139" y="196.72"/><use href="#mt" x="147.5" y="196.75"/><use href="#mt" x="155.5" y="196.78"/><use href="#mt" x="163.2" y="196.82"/><use href="#mt" x="170.4" y="196.86"/><use href="#mt" x="177.4" y="196.9"/><use href="#mt" x="183.9" y="196.94"/><use href="#mt" x="190.2" y="196.98"/><use href="#mt" x="195.8" y="197.03"/><use href="#mt" x="201.3" y="197.15"/><use href="#mt" x="206.2" y="197.3"/><use href="#mt" x="210.8" y="197.47"/><use href="#mt" x="214.8" y="197.63"/><use href="#mt" x="218.1" y="197.77"/><use href="#mt" x="220.9" y="197.89"/><use href="#mt" x="223.4" y="197.98"/><use href="#mt" x="225.5" y="198.06"/></g>
<path d="M69.9 195.6 L80.8 195.6 L91.3 195.61 L101.6 195.62 L111.7 195.64 L121.3 195.66 L130.4 195.69 L139 195.72 L147.5 195.75 L155.5 195.78 L163.2 195.82 L170.4 195.86 L177.4 195.9 L183.9 195.94 L190.2 195.98 L195.8 196.03 L201.3 196.14 L206.2 196.27 L210.8 196.43 L214.8 196.57 L218.1 196.69 L220.9 196.8 L223.4 196.89 L225.5 196.96" fill="none" stroke="#3fae58" stroke-width="1.2"/>
<g fill="#fff" stroke="#3fae58" stroke-width="1.15" stroke-linejoin="round"><use href="#mt" x="69.9" y="195.6"/><use href="#mt" x="80.8" y="195.6"/><use href="#mt" x="91.3" y="195.61"/><use href="#mt" x="101.6" y="195.62"/><use href="#mt" x="111.7" y="195.64"/><use href="#mt" x="121.3" y="195.66"/><use href="#mt" x="130.4" y="195.69"/><use href="#mt" x="139" y="195.72"/><use href="#mt" x="147.5" y="195.75"/><use href="#mt" x="155.5" y="195.78"/><use href="#mt" x="163.2" y="195.82"/><use href="#mt" x="170.4" y="195.86"/><use href="#mt" x="177.4" y="195.9"/><use href="#mt" x="183.9" y="195.94"/><use href="#mt" x="190.2" y="195.98"/><use href="#mt" x="195.8" y="196.03"/><use href="#mt" x="201.3" y="196.14"/><use href="#mt" x="206.2" y="196.27"/><use href="#mt" x="210.8" y="196.43"/><use href="#mt" x="214.8" y="196.57"/><use href="#mt" x="218.1" y="196.69"/><use href="#mt" x="220.9" y="196.8"/><use href="#mt" x="223.4" y="196.89"/><use href="#mt" x="225.5" y="196.96"/></g>
<path d="M69.9 193.8 L80.8 193.82 L91.3 193.84 L101.6 193.86 L111.7 193.88 L121.3 193.9 L130.4 193.92 L139 193.93 L147.5 193.95 L155.5 193.97 L163.2 193.98 L170.4 194 L177.4 194.01 L183.9 194.02 L190.2 194.03 L195.8 194.05 L201.3 194.06 L206.2 194.07 L210.8 194.07 L214.8 194.08 L218.1 194.09 L220.9 194.09 L223.4 194.1 L225.5 194.1" fill="none" stroke="#a866ee" stroke-width="1.2"/>
<g fill="#fff" stroke="#a866ee" stroke-width="1.15" stroke-linejoin="round"><use href="#mt" x="69.9" y="193.8"/><use href="#mt" x="80.8" y="193.82"/><use href="#mt" x="91.3" y="193.84"/><use href="#mt" x="101.6" y="193.86"/><use href="#mt" x="111.7" y="193.88"/><use href="#mt" x="121.3" y="193.9"/><use href="#mt" x="130.4" y="193.92"/><use href="#mt" x="139" y="193.93"/><use href="#mt" x="147.5" y="193.95"/><use href="#mt" x="155.5" y="193.97"/><use href="#mt" x="163.2" y="193.98"/><use href="#mt" x="170.4" y="194"/><use href="#mt" x="177.4" y="194.01"/><use href="#mt" x="183.9" y="194.02"/><use href="#mt" x="190.2" y="194.03"/><use href="#mt" x="195.8" y="194.05"/><use href="#mt" x="201.3" y="194.06"/><use href="#mt" x="206.2" y="194.07"/><use href="#mt" x="210.8" y="194.07"/><use href="#mt" x="214.8" y="194.08"/><use href="#mt" x="218.1" y="194.09"/><use href="#mt" x="220.9" y="194.09"/><use href="#mt" x="223.4" y="194.1"/><use href="#mt" x="225.5" y="194.1"/></g>
</g>
<path d="M69.9 189.94h2.4M69.9 233.8h2.4M69.9 277.66h2.4M69.9 211.87h1.6M69.9 255.73h1.6M69.9 295.2v-2.4M135.3 295.2v-2.4M200.69 295.2v-2.4M102.6 295.2v-1.6M167.99 295.2v-1.6" stroke="#1a1a1a" stroke-width="1.1" fill="none"/>
<text x="66.8" y="193.24" font-size="10.9" text-anchor="end" fill="#1c1c1c" stroke="#1c1c1c" stroke-width="0.25">0</text>
<text x="66.8" y="237.1" font-size="10.9" text-anchor="end" fill="#1c1c1c" stroke="#1c1c1c" stroke-width="0.25">-5×<tspan class="o1">1</tspan>0<tspan font-size="7" dy="-4.2">-2</tspan></text>
<text x="66.8" y="280.96" font-size="10.9" text-anchor="end" fill="#1c1c1c" stroke="#1c1c1c" stroke-width="0.25">-<tspan class="o1">1</tspan>×<tspan class="o1">1</tspan>0<tspan font-size="7" dy="-4.2">-<tspan class="o1">1</tspan></tspan></text>
<text x="69.6" y="307.6" font-size="10.9" text-anchor="middle" fill="#1c1c1c" stroke="#1c1c1c" stroke-width="0.25">0</text>
<text x="135" y="307.6" font-size="10.9" text-anchor="middle" fill="#1c1c1c" stroke="#1c1c1c" stroke-width="0.25">3×<tspan class="o1">1</tspan>0<tspan font-size="7" dy="-4.2">-3</tspan></text>
<text x="200.39" y="307.6" font-size="10.9" text-anchor="middle" fill="#1c1c1c" stroke="#1c1c1c" stroke-width="0.25">6×<tspan class="o1">1</tspan>0<tspan font-size="7" dy="-4.2">-3</tspan></text>
<text x="147.45" y="317.7" font-size="11.15" text-anchor="middle" fill="#1c1c1c" stroke="#1c1c1c" stroke-width="0.25">Distance to the droplet center / m</text>
<text transform="translate(29.9 310.3) rotate(-90)" x="0" y="0" font-size="11.15" fill="#1c1c1c" stroke="#1c1c1c" stroke-width="0.25">Cathodic current density / A<tspan dx="-0.9">·</tspan><tspan dx="-0.8">m</tspan><tspan font-size="7.6" dy="-3.3">-2</tspan></text>
<path d="M184.5 237.4H199.8" stroke="#454545" stroke-width="1.2"/>
<path d="M190.2 233.75L196.2 237.4L190.2 241.05Z" fill="#fff" stroke="#454545" stroke-width="1.15" stroke-linejoin="round"/>
<text x="201.2" y="240" font-size="9" text-anchor="start" fill="#1c1c1c" stroke="#1c1c1c" stroke-width="0.05">0 h</text>
<path d="M184.5 248H199.8" stroke="#ec3038" stroke-width="1.2"/>
<path d="M190.2 244.35L196.2 248L190.2 251.65Z" fill="#fff" stroke="#ec3038" stroke-width="1.15" stroke-linejoin="round"/>
<text x="201.2" y="250.6" font-size="9" text-anchor="start" fill="#1c1c1c" stroke="#1c1c1c" stroke-width="0.05">0.5 h</text>
<path d="M184.5 258.7H199.8" stroke="#3a72ec" stroke-width="1.2"/>
<path d="M190.2 255.05L196.2 258.7L190.2 262.35Z" fill="#fff" stroke="#3a72ec" stroke-width="1.15" stroke-linejoin="round"/>
<text x="201.2" y="261.3" font-size="9" text-anchor="start" fill="#1c1c1c" stroke="#1c1c1c" stroke-width="0.05"><tspan class="o1">1</tspan> h</text>
<path d="M184.5 269.3H199.8" stroke="#3fae58" stroke-width="1.2"/>
<path d="M190.2 265.65L196.2 269.3L190.2 272.95Z" fill="#fff" stroke="#3fae58" stroke-width="1.15" stroke-linejoin="round"/>
<text x="201.2" y="271.9" font-size="9" text-anchor="start" fill="#1c1c1c" stroke="#1c1c1c" stroke-width="0.05"><tspan class="o1">1</tspan>.5 h</text>
<path d="M184.5 280H199.8" stroke="#a866ee" stroke-width="1.2"/>
<path d="M190.2 276.35L196.2 280L190.2 283.65Z" fill="#fff" stroke="#a866ee" stroke-width="1.15" stroke-linejoin="round"/>
<text x="201.2" y="282.6" font-size="9" text-anchor="start" fill="#1c1c1c" stroke="#1c1c1c" stroke-width="0.05">2 h</text>
<text x="2.1" y="170.6" font-size="20.5" font-weight="bold" fill="#000">b</text>
<text x="15" y="175.5" font-size="14.3" font-weight="bold" fill="#000"><tspan class="o1">1</tspan></text>
<rect x="297.6" y="172.4" width="153.8" height="122.8" fill="none" stroke="#1a1a1a" stroke-width="1.35"/>
<g clip-path="url(#cpb1)">
<path d="M297.6 211.4 L308.49 211.4 L318.99 211.4 L329.28 211.4 L339.37 211.4 L348.97 211.4 L358.06 211.4 L366.66 211.4 L375.15 211.4 L383.14 211.4 L390.84 211.4 L398.03 211.4 L405.03 211.4 L411.53 211.4 L417.82 211.4 L423.42 211.4 L428.91 211.4 L433.81 211.4 L438.41 211.4 L442.41 211.4 L445.7 211.4 L448.5 211.4 L451 211.4 L453.1 211.4" fill="none" stroke="#454545" stroke-width="1.2"/>
<g fill="#fff" stroke="#454545" stroke-width="1.15" stroke-linejoin="round"><use href="#mt" x="297.6" y="211.4"/><use href="#mt" x="308.49" y="211.4"/><use href="#mt" x="318.99" y="211.4"/><use href="#mt" x="329.28" y="211.4"/><use href="#mt" x="339.37" y="211.4"/><use href="#mt" x="348.97" y="211.4"/><use href="#mt" x="358.06" y="211.4"/><use href="#mt" x="366.66" y="211.4"/><use href="#mt" x="375.15" y="211.4"/><use href="#mt" x="383.14" y="211.4"/><use href="#mt" x="390.84" y="211.4"/><use href="#mt" x="398.03" y="211.4"/><use href="#mt" x="405.03" y="211.4"/><use href="#mt" x="411.53" y="211.4"/><use href="#mt" x="417.82" y="211.4"/><use href="#mt" x="423.42" y="211.4"/><use href="#mt" x="428.91" y="211.4"/><use href="#mt" x="433.81" y="211.4"/><use href="#mt" x="438.41" y="211.4"/><use href="#mt" x="442.41" y="211.4"/><use href="#mt" x="445.7" y="211.4"/><use href="#mt" x="448.5" y="211.4"/><use href="#mt" x="451" y="211.4"/><use href="#mt" x="453.1" y="211.4"/></g>
<path d="M297.6 202.6 L308.49 202.6 L318.99 202.6 L329.28 202.6 L339.37 202.6 L348.97 202.6 L358.06 202.6 L366.66 202.6 L375.15 202.6 L383.14 202.6 L390.84 202.6 L398.03 202.6 L405.03 202.6 L411.53 202.6 L417.82 202.6 L423.42 202.6 L428.91 202.6 L433.81 202.6 L438.41 202.6 L442.41 202.6 L445.7 202.6 L448.5 202.6 L451 202.6 L453.1 202.6" fill="none" stroke="#ec3038" stroke-width="1.2"/>
<g fill="#fff" stroke="#ec3038" stroke-width="1.15" stroke-linejoin="round"><use href="#mt" x="297.6" y="202.6"/><use href="#mt" x="308.49" y="202.6"/><use href="#mt" x="318.99" y="202.6"/><use href="#mt" x="329.28" y="202.6"/><use href="#mt" x="339.37" y="202.6"/><use href="#mt" x="348.97" y="202.6"/><use href="#mt" x="358.06" y="202.6"/><use href="#mt" x="366.66" y="202.6"/><use href="#mt" x="375.15" y="202.6"/><use href="#mt" x="383.14" y="202.6"/><use href="#mt" x="390.84" y="202.6"/><use href="#mt" x="398.03" y="202.6"/><use href="#mt" x="405.03" y="202.6"/><use href="#mt" x="411.53" y="202.6"/><use href="#mt" x="417.82" y="202.6"/><use href="#mt" x="423.42" y="202.6"/><use href="#mt" x="428.91" y="202.6"/><use href="#mt" x="433.81" y="202.6"/><use href="#mt" x="438.41" y="202.6"/><use href="#mt" x="442.41" y="202.6"/><use href="#mt" x="445.7" y="202.6"/><use href="#mt" x="448.5" y="202.6"/><use href="#mt" x="451" y="202.6"/><use href="#mt" x="453.1" y="202.6"/></g>
<path d="M297.6 196.8 L308.49 196.8 L318.99 196.8 L329.28 196.8 L339.37 196.8 L348.97 196.8 L358.06 196.8 L366.66 196.8 L375.15 196.8 L383.14 196.8 L390.84 196.8 L398.03 196.8 L405.03 196.8 L411.53 196.8 L417.82 196.8 L423.42 196.8 L428.91 196.8 L433.81 196.8 L438.41 196.8 L442.41 196.8 L445.7 196.8 L448.5 196.8 L451 196.8 L453.1 196.8" fill="none" stroke="#3a72ec" stroke-width="1.2"/>
<g fill="#fff" stroke="#3a72ec" stroke-width="1.15" stroke-linejoin="round"><use href="#mt" x="297.6" y="196.8"/><use href="#mt" x="308.49" y="196.8"/><use href="#mt" x="318.99" y="196.8"/><use href="#mt" x="329.28" y="196.8"/><use href="#mt" x="339.37" y="196.8"/><use href="#mt" x="348.97" y="196.8"/><use href="#mt" x="358.06" y="196.8"/><use href="#mt" x="366.66" y="196.8"/><use href="#mt" x="375.15" y="196.8"/><use href="#mt" x="383.14" y="196.8"/><use href="#mt" x="390.84" y="196.8"/><use href="#mt" x="398.03" y="196.8"/><use href="#mt" x="405.03" y="196.8"/><use href="#mt" x="411.53" y="196.8"/><use href="#mt" x="417.82" y="196.8"/><use href="#mt" x="423.42" y="196.8"/><use href="#mt" x="428.91" y="196.8"/><use href="#mt" x="433.81" y="196.8"/><use href="#mt" x="438.41" y="196.8"/><use href="#mt" x="442.41" y="196.8"/><use href="#mt" x="445.7" y="196.8"/><use href="#mt" x="448.5" y="196.8"/><use href="#mt" x="451" y="196.8"/><use href="#mt" x="453.1" y="196.8"/></g>
<path d="M297.6 193.3 L308.49 193.3 L318.99 193.3 L329.28 193.3 L339.37 193.3 L348.97 193.3 L358.06 193.3 L366.66 193.3 L375.15 193.3 L383.14 193.3 L390.84 193.3 L398.03 193.3 L405.03 193.3 L411.53 193.3 L417.82 193.3 L423.42 193.3 L428.91 193.3 L433.81 193.3 L438.41 193.3 L442.41 193.3 L445.7 193.3 L448.5 193.3 L451 193.3 L453.1 193.3" fill="none" stroke="#3fae58" stroke-width="1.2"/>
<g fill="#fff" stroke="#3fae58" stroke-width="1.15" stroke-linejoin="round"><use href="#mt" x="297.6" y="193.3"/><use href="#mt" x="308.49" y="193.3"/><use href="#mt" x="318.99" y="193.3"/><use href="#mt" x="329.28" y="193.3"/><use href="#mt" x="339.37" y="193.3"/><use href="#mt" x="348.97" y="193.3"/><use href="#mt" x="358.06" y="193.3"/><use href="#mt" x="366.66" y="193.3"/><use href="#mt" x="375.15" y="193.3"/><use href="#mt" x="383.14" y="193.3"/><use href="#mt" x="390.84" y="193.3"/><use href="#mt" x="398.03" y="193.3"/><use href="#mt" x="405.03" y="193.3"/><use href="#mt" x="411.53" y="193.3"/><use href="#mt" x="417.82" y="193.3"/><use href="#mt" x="423.42" y="193.3"/><use href="#mt" x="428.91" y="193.3"/><use href="#mt" x="433.81" y="193.3"/><use href="#mt" x="438.41" y="193.3"/><use href="#mt" x="442.41" y="193.3"/><use href="#mt" x="445.7" y="193.3"/><use href="#mt" x="448.5" y="193.3"/><use href="#mt" x="451" y="193.3"/><use href="#mt" x="453.1" y="193.3"/></g>
<path d="M297.6 191.2 L308.49 191.2 L318.99 191.2 L329.28 191.2 L339.37 191.2 L348.97 191.2 L358.06 191.2 L366.66 191.2 L375.15 191.2 L383.14 191.2 L390.84 191.2 L398.03 191.2 L405.03 191.2 L411.53 191.2 L417.82 191.2 L423.42 191.2 L428.91 191.2 L433.81 191.2 L438.41 191.2 L442.41 191.2 L445.7 191.2 L448.5 191.2 L451 191.2 L453.1 191.2" fill="none" stroke="#a866ee" stroke-width="1.2"/>
<g fill="#fff" stroke="#a866ee" stroke-width="1.15" stroke-linejoin="round"><use href="#mt" x="297.6" y="191.2"/><use href="#mt" x="308.49" y="191.2"/><use href="#mt" x="318.99" y="191.2"/><use href="#mt" x="329.28" y="191.2"/><use href="#mt" x="339.37" y="191.2"/><use href="#mt" x="348.97" y="191.2"/><use href="#mt" x="358.06" y="191.2"/><use href="#mt" x="366.66" y="191.2"/><use href="#mt" x="375.15" y="191.2"/><use href="#mt" x="383.14" y="191.2"/><use href="#mt" x="390.84" y="191.2"/><use href="#mt" x="398.03" y="191.2"/><use href="#mt" x="405.03" y="191.2"/><use href="#mt" x="411.53" y="191.2"/><use href="#mt" x="417.82" y="191.2"/><use href="#mt" x="423.42" y="191.2"/><use href="#mt" x="428.91" y="191.2"/><use href="#mt" x="433.81" y="191.2"/><use href="#mt" x="438.41" y="191.2"/><use href="#mt" x="442.41" y="191.2"/><use href="#mt" x="445.7" y="191.2"/><use href="#mt" x="448.5" y="191.2"/><use href="#mt" x="451" y="191.2"/><use href="#mt" x="453.1" y="191.2"/></g>
</g>
<path d="M297.6 189.94h2.4M297.6 233.8h2.4M297.6 277.66h2.4M297.6 211.87h1.6M297.6 255.73h1.6M297.6 295.2v-2.4M362.95 295.2v-2.4M428.31 295.2v-2.4M330.28 295.2v-1.6M395.63 295.2v-1.6" stroke="#1a1a1a" stroke-width="1.1" fill="none"/>
<text x="294.5" y="193.24" font-size="10.9" text-anchor="end" fill="#1c1c1c" stroke="#1c1c1c" stroke-width="0.25">0</text>
<text x="294.5" y="237.1" font-size="10.9" text-anchor="end" fill="#1c1c1c" stroke="#1c1c1c" stroke-width="0.25">-5×<tspan class="o1">1</tspan>0<tspan font-size="7" dy="-4.2">-2</tspan></text>
<text x="294.5" y="280.96" font-size="10.9" text-anchor="end" fill="#1c1c1c" stroke="#1c1c1c" stroke-width="0.25">-<tspan class="o1">1</tspan>×<tspan class="o1">1</tspan>0<tspan font-size="7" dy="-4.2">-<tspan class="o1">1</tspan></tspan></text>
<text x="297.3" y="307.6" font-size="10.9" text-anchor="middle" fill="#1c1c1c" stroke="#1c1c1c" stroke-width="0.25">0</text>
<text x="362.65" y="307.6" font-size="10.9" text-anchor="middle" fill="#1c1c1c" stroke="#1c1c1c" stroke-width="0.25">3×<tspan class="o1">1</tspan>0<tspan font-size="7" dy="-4.2">-3</tspan></text>
<text x="428.01" y="307.6" font-size="10.9" text-anchor="middle" fill="#1c1c1c" stroke="#1c1c1c" stroke-width="0.25">6×<tspan class="o1">1</tspan>0<tspan font-size="7" dy="-4.2">-3</tspan></text>
<text x="374.5" y="317.7" font-size="11.15" text-anchor="middle" fill="#1c1c1c" stroke="#1c1c1c" stroke-width="0.25">Distance to the droplet center / m</text>
<text transform="translate(256.9 311.1) rotate(-90)" x="0" y="0" font-size="11.15" fill="#1c1c1c" stroke="#1c1c1c" stroke-width="0.25">Cathodic current density / A<tspan dx="-0.9">·</tspan><tspan dx="-0.8">m</tspan><tspan font-size="7.6" dy="-3.3">-2</tspan></text>
<path d="M411.2 245H426.4" stroke="#454545" stroke-width="1.2"/>
<path d="M416.9 241.35L422.9 245L416.9 248.65Z" fill="#fff" stroke="#454545" stroke-width="1.15" stroke-linejoin="round"/>
<text x="427.9" y="247.6" font-size="9" text-anchor="start" fill="#1c1c1c" stroke="#1c1c1c" stroke-width="0.05">0 h</text>
<path d="M411.2 255.6H426.4" stroke="#ec3038" stroke-width="1.2"/>
<path d="M416.9 251.95L422.9 255.6L416.9 259.25Z" fill="#fff" stroke="#ec3038" stroke-width="1.15" stroke-linejoin="round"/>
<text x="427.9" y="258.2" font-size="9" text-anchor="start" fill="#1c1c1c" stroke="#1c1c1c" stroke-width="0.05">0.5 h</text>
<path d="M411.2 266.4H426.4" stroke="#3a72ec" stroke-width="1.2"/>
<path d="M416.9 262.75L422.9 266.4L416.9 270.05Z" fill="#fff" stroke="#3a72ec" stroke-width="1.15" stroke-linejoin="round"/>
<text x="427.9" y="269" font-size="9" text-anchor="start" fill="#1c1c1c" stroke="#1c1c1c" stroke-width="0.05"><tspan class="o1">1</tspan> h</text>
<path d="M411.2 277.1H426.4" stroke="#3fae58" stroke-width="1.2"/>
<path d="M416.9 273.45L422.9 277.1L416.9 280.75Z" fill="#fff" stroke="#3fae58" stroke-width="1.15" stroke-linejoin="round"/>
<text x="427.9" y="279.7" font-size="9" text-anchor="start" fill="#1c1c1c" stroke="#1c1c1c" stroke-width="0.05"><tspan class="o1">1</tspan>.5 h</text>
<path d="M411.2 287.9H426.4" stroke="#a866ee" stroke-width="1.2"/>
<path d="M416.9 284.25L422.9 287.9L416.9 291.55Z" fill="#fff" stroke="#a866ee" stroke-width="1.15" stroke-linejoin="round"/>
<text x="427.9" y="290.5" font-size="9" text-anchor="start" fill="#1c1c1c" stroke="#1c1c1c" stroke-width="0.05">2 h</text>
<text x="225.9" y="173.4" font-size="20.5" font-weight="bold" fill="#000">b</text>
<text x="238.8" y="178.6" font-size="14.3" font-weight="bold" fill="#000">2</text>
<rect x="525.8" y="172.4" width="153.8" height="122.8" fill="none" stroke="#1a1a1a" stroke-width="1.35"/>
<g clip-path="url(#cpb2)">
<path d="M525.8 268.6 L536.69 268.6 L547.19 268.6 L557.48 268.6 L567.57 268.6 L577.17 268.6 L586.26 268.6 L594.86 268.6 L603.35 268.6 L611.34 268.6 L619.04 268.6 L626.23 268.6 L633.23 268.6 L639.73 268.6 L646.02 268.6 L651.62 268.6 L657.11 268.6 L662.01 268.6 L666.61 268.6 L670.61 268.6 L673.9 268.6 L676.7 268.6 L679.2 268.6 L681.3 268.6" fill="none" stroke="#454545" stroke-width="1.2"/>
<g fill="#fff" stroke="#454545" stroke-width="1.15" stroke-linejoin="round"><use href="#mt" x="525.8" y="268.6"/><use href="#mt" x="536.69" y="268.6"/><use href="#mt" x="547.19" y="268.6"/><use href="#mt" x="557.48" y="268.6"/><use href="#mt" x="567.57" y="268.6"/><use href="#mt" x="577.17" y="268.6"/><use href="#mt" x="586.26" y="268.6"/><use href="#mt" x="594.86" y="268.6"/><use href="#mt" x="603.35" y="268.6"/><use href="#mt" x="611.34" y="268.6"/><use href="#mt" x="619.04" y="268.6"/><use href="#mt" x="626.23" y="268.6"/><use href="#mt" x="633.23" y="268.6"/><use href="#mt" x="639.73" y="268.6"/><use href="#mt" x="646.02" y="268.6"/><use href="#mt" x="651.62" y="268.6"/><use href="#mt" x="657.11" y="268.6"/><use href="#mt" x="662.01" y="268.6"/><use href="#mt" x="666.61" y="268.6"/><use href="#mt" x="670.61" y="268.6"/><use href="#mt" x="673.9" y="268.6"/><use href="#mt" x="676.7" y="268.6"/><use href="#mt" x="679.2" y="268.6"/><use href="#mt" x="681.3" y="268.6"/></g>
<path d="M525.8 201.2 L536.69 201.2 L547.19 201.2 L557.48 201.2 L567.57 201.2 L577.17 201.2 L586.26 201.2 L594.86 201.2 L603.35 201.2 L611.34 201.2 L619.04 201.2 L626.23 201.2 L633.23 201.2 L639.73 201.2 L646.02 201.2 L651.62 201.2 L657.11 201.2 L662.01 201.2 L666.61 201.2 L670.61 201.2 L673.9 201.2 L676.7 201.2 L679.2 201.2 L681.3 201.2" fill="none" stroke="#ec3038" stroke-width="1.2"/>
<g fill="#fff" stroke="#ec3038" stroke-width="1.15" stroke-linejoin="round"><use href="#mt" x="525.8" y="201.2"/><use href="#mt" x="536.69" y="201.2"/><use href="#mt" x="547.19" y="201.2"/><use href="#mt" x="557.48" y="201.2"/><use href="#mt" x="567.57" y="201.2"/><use href="#mt" x="577.17" y="201.2"/><use href="#mt" x="586.26" y="201.2"/><use href="#mt" x="594.86" y="201.2"/><use href="#mt" x="603.35" y="201.2"/><use href="#mt" x="611.34" y="201.2"/><use href="#mt" x="619.04" y="201.2"/><use href="#mt" x="626.23" y="201.2"/><use href="#mt" x="633.23" y="201.2"/><use href="#mt" x="639.73" y="201.2"/><use href="#mt" x="646.02" y="201.2"/><use href="#mt" x="651.62" y="201.2"/><use href="#mt" x="657.11" y="201.2"/><use href="#mt" x="662.01" y="201.2"/><use href="#mt" x="666.61" y="201.2"/><use href="#mt" x="670.61" y="201.2"/><use href="#mt" x="673.9" y="201.2"/><use href="#mt" x="676.7" y="201.2"/><use href="#mt" x="679.2" y="201.2"/><use href="#mt" x="681.3" y="201.2"/></g>
<path d="M525.8 192.1 L536.69 192.21 L547.19 192.32 L557.48 192.43 L567.57 192.53 L577.17 192.63 L586.26 192.73 L594.86 192.82 L603.35 192.91 L611.34 192.99 L619.04 193.07 L626.23 193.14 L633.23 193.22 L639.73 193.29 L646.02 193.35 L651.62 193.41 L657.11 193.47 L662.01 193.52 L666.61 193.56 L670.61 193.61 L673.9 193.64 L676.7 193.67 L679.2 193.7 L681.3 193.72" fill="none" stroke="#3a72ec" stroke-width="1.2"/>
<g fill="#fff" stroke="#3a72ec" stroke-width="1.15" stroke-linejoin="round"><use href="#mt" x="525.8" y="192.1"/><use href="#mt" x="536.69" y="192.21"/><use href="#mt" x="547.19" y="192.32"/><use href="#mt" x="557.48" y="192.43"/><use href="#mt" x="567.57" y="192.53"/><use href="#mt" x="577.17" y="192.63"/><use href="#mt" x="586.26" y="192.73"/><use href="#mt" x="594.86" y="192.82"/><use href="#mt" x="603.35" y="192.91"/><use href="#mt" x="611.34" y="192.99"/><use href="#mt" x="619.04" y="193.07"/><use href="#mt" x="626.23" y="193.14"/><use href="#mt" x="633.23" y="193.22"/><use href="#mt" x="639.73" y="193.29"/><use href="#mt" x="646.02" y="193.35"/><use href="#mt" x="651.62" y="193.41"/><use href="#mt" x="657.11" y="193.47"/><use href="#mt" x="662.01" y="193.52"/><use href="#mt" x="666.61" y="193.56"/><use href="#mt" x="670.61" y="193.61"/><use href="#mt" x="673.9" y="193.64"/><use href="#mt" x="676.7" y="193.67"/><use href="#mt" x="679.2" y="193.7"/><use href="#mt" x="681.3" y="193.72"/></g>
<path d="M525.8 190.7 L536.69 190.73 L547.19 190.76 L557.48 190.78 L567.57 190.81 L577.17 190.83 L586.26 190.86 L594.86 190.88 L603.35 190.9 L611.34 190.92 L619.04 190.94 L626.23 190.96 L633.23 190.98 L639.73 191 L646.02 191.01 L651.62 191.03 L657.11 191.04 L662.01 191.05 L666.61 191.07 L670.61 191.08 L673.9 191.09 L676.7 191.09 L679.2 191.1 L681.3 191.1" fill="none" stroke="#3fae58" stroke-width="1.2"/>
<g fill="#fff" stroke="#3fae58" stroke-width="1.15" stroke-linejoin="round"><use href="#mt" x="525.8" y="190.7"/><use href="#mt" x="536.69" y="190.73"/><use href="#mt" x="547.19" y="190.76"/><use href="#mt" x="557.48" y="190.78"/><use href="#mt" x="567.57" y="190.81"/><use href="#mt" x="577.17" y="190.83"/><use href="#mt" x="586.26" y="190.86"/><use href="#mt" x="594.86" y="190.88"/><use href="#mt" x="603.35" y="190.9"/><use href="#mt" x="611.34" y="190.92"/><use href="#mt" x="619.04" y="190.94"/><use href="#mt" x="626.23" y="190.96"/><use href="#mt" x="633.23" y="190.98"/><use href="#mt" x="639.73" y="191"/><use href="#mt" x="646.02" y="191.01"/><use href="#mt" x="651.62" y="191.03"/><use href="#mt" x="657.11" y="191.04"/><use href="#mt" x="662.01" y="191.05"/><use href="#mt" x="666.61" y="191.07"/><use href="#mt" x="670.61" y="191.08"/><use href="#mt" x="673.9" y="191.09"/><use href="#mt" x="676.7" y="191.09"/><use href="#mt" x="679.2" y="191.1"/><use href="#mt" x="681.3" y="191.1"/></g>
<path d="M525.8 189.7 L536.69 189.7 L547.19 189.7 L557.48 189.7 L567.57 189.7 L577.17 189.7 L586.26 189.7 L594.86 189.7 L603.35 189.7 L611.34 189.7 L619.04 189.7 L626.23 189.7 L633.23 189.7 L639.73 189.7 L646.02 189.7 L651.62 189.7 L657.11 189.7 L662.01 189.7 L666.61 189.7 L670.61 189.7 L673.9 189.7 L676.7 189.7 L679.2 189.7 L681.3 189.7" fill="none" stroke="#a866ee" stroke-width="1.2"/>
<g fill="#fff" stroke="#a866ee" stroke-width="1.15" stroke-linejoin="round"><use href="#mt" x="525.8" y="189.7"/><use href="#mt" x="536.69" y="189.7"/><use href="#mt" x="547.19" y="189.7"/><use href="#mt" x="557.48" y="189.7"/><use href="#mt" x="567.57" y="189.7"/><use href="#mt" x="577.17" y="189.7"/><use href="#mt" x="586.26" y="189.7"/><use href="#mt" x="594.86" y="189.7"/><use href="#mt" x="603.35" y="189.7"/><use href="#mt" x="611.34" y="189.7"/><use href="#mt" x="619.04" y="189.7"/><use href="#mt" x="626.23" y="189.7"/><use href="#mt" x="633.23" y="189.7"/><use href="#mt" x="639.73" y="189.7"/><use href="#mt" x="646.02" y="189.7"/><use href="#mt" x="651.62" y="189.7"/><use href="#mt" x="657.11" y="189.7"/><use href="#mt" x="662.01" y="189.7"/><use href="#mt" x="666.61" y="189.7"/><use href="#mt" x="670.61" y="189.7"/><use href="#mt" x="673.9" y="189.7"/><use href="#mt" x="676.7" y="189.7"/><use href="#mt" x="679.2" y="189.7"/><use href="#mt" x="681.3" y="189.7"/></g>
</g>
<path d="M525.8 189.94h2.4M525.8 233.8h2.4M525.8 277.66h2.4M525.8 211.87h1.6M525.8 255.73h1.6M525.8 295.2v-2.4M591.15 295.2v-2.4M656.51 295.2v-2.4M558.48 295.2v-1.6M623.83 295.2v-1.6" stroke="#1a1a1a" stroke-width="1.1" fill="none"/>
<text x="522.7" y="193.24" font-size="10.9" text-anchor="end" fill="#1c1c1c" stroke="#1c1c1c" stroke-width="0.25">0</text>
<text x="522.7" y="237.1" font-size="10.9" text-anchor="end" fill="#1c1c1c" stroke="#1c1c1c" stroke-width="0.25">-5×<tspan class="o1">1</tspan>0<tspan font-size="7" dy="-4.2">-2</tspan></text>
<text x="522.7" y="280.96" font-size="10.9" text-anchor="end" fill="#1c1c1c" stroke="#1c1c1c" stroke-width="0.25">-<tspan class="o1">1</tspan>×<tspan class="o1">1</tspan>0<tspan font-size="7" dy="-4.2">-<tspan class="o1">1</tspan></tspan></text>
<text x="525.5" y="307.6" font-size="10.9" text-anchor="middle" fill="#1c1c1c" stroke="#1c1c1c" stroke-width="0.25">0</text>
<text x="590.85" y="307.6" font-size="10.9" text-anchor="middle" fill="#1c1c1c" stroke="#1c1c1c" stroke-width="0.25">3×<tspan class="o1">1</tspan>0<tspan font-size="7" dy="-4.2">-3</tspan></text>
<text x="656.21" y="307.6" font-size="10.9" text-anchor="middle" fill="#1c1c1c" stroke="#1c1c1c" stroke-width="0.25">6×<tspan class="o1">1</tspan>0<tspan font-size="7" dy="-4.2">-3</tspan></text>
<text x="602.7" y="317.7" font-size="11.15" text-anchor="middle" fill="#1c1c1c" stroke="#1c1c1c" stroke-width="0.25">Distance to the droplet center / m</text>
<text transform="translate(485 310.9) rotate(-90)" x="0" y="0" font-size="11.15" fill="#1c1c1c" stroke="#1c1c1c" stroke-width="0.25">Cathodic current density / A<tspan dx="-0.9">·</tspan><tspan dx="-0.8">m</tspan><tspan font-size="7.6" dy="-3.3">-2</tspan></text>
<path d="M641.4 214.9H655.3" stroke="#454545" stroke-width="1.2"/>
<path d="M646.4 211.25L652.4 214.9L646.4 218.55Z" fill="#fff" stroke="#454545" stroke-width="1.15" stroke-linejoin="round"/>
<text x="657.9" y="217.5" font-size="9" text-anchor="start" fill="#1c1c1c" stroke="#1c1c1c" stroke-width="0.05">0 h</text>
<path d="M641.4 225.6H655.3" stroke="#ec3038" stroke-width="1.2"/>
<path d="M646.4 221.95L652.4 225.6L646.4 229.25Z" fill="#fff" stroke="#ec3038" stroke-width="1.15" stroke-linejoin="round"/>
<text x="657.9" y="228.2" font-size="9" text-anchor="start" fill="#1c1c1c" stroke="#1c1c1c" stroke-width="0.05">0.5 h</text>
<path d="M641.4 236.3H655.3" stroke="#3a72ec" stroke-width="1.2"/>
<path d="M646.4 232.65L652.4 236.3L646.4 239.95Z" fill="#fff" stroke="#3a72ec" stroke-width="1.15" stroke-linejoin="round"/>
<text x="657.9" y="238.9" font-size="9" text-anchor="start" fill="#1c1c1c" stroke="#1c1c1c" stroke-width="0.05"><tspan class="o1">1</tspan> h</text>
<path d="M641.4 247H655.3" stroke="#3fae58" stroke-width="1.2"/>
<path d="M646.4 243.35L652.4 247L646.4 250.65Z" fill="#fff" stroke="#3fae58" stroke-width="1.15" stroke-linejoin="round"/>
<text x="657.9" y="249.6" font-size="9" text-anchor="start" fill="#1c1c1c" stroke="#1c1c1c" stroke-width="0.05"><tspan class="o1">1</tspan>.5 h</text>
<path d="M641.4 257.7H655.3" stroke="#a866ee" stroke-width="1.2"/>
<path d="M646.4 254.05L652.4 257.7L646.4 261.35Z" fill="#fff" stroke="#a866ee" stroke-width="1.15" stroke-linejoin="round"/>
<text x="657.9" y="260.3" font-size="9" text-anchor="start" fill="#1c1c1c" stroke="#1c1c1c" stroke-width="0.05">2 h</text>
<text x="453.7" y="175.3" font-size="20.5" font-weight="bold" fill="#000">b</text>
<text x="467.1" y="180.5" font-size="14.3" font-weight="bold" fill="#000">3</text>
<rect x="69.9" y="333.1" width="153.9" height="122.1" fill="none" stroke="#1a1a1a" stroke-width="1.35"/>
<g clip-path="url(#cpc0)">
<path d="M69.9 385 L80.8 384.96 L91.3 384.93 L101.6 384.9 L111.7 384.86 L121.3 384.83 L130.4 384.8 L139 384.78 L147.5 384.75 L155.5 384.72 L163.2 384.7 L170.4 384.67 L177.4 384.65 L183.9 384.63 L190.2 384.61 L195.8 384.59 L201.3 384.57 L206.2 384.56 L210.8 384.54 L214.8 384.53 L218.1 384.52 L220.9 384.51 L223.4 384.5 L225.5 384.49" fill="none" stroke="#454545" stroke-width="1.2"/>
<g fill="#fff" stroke="#454545" stroke-width="1.15" stroke-linejoin="round"><use href="#md" x="69.9" y="385"/><use href="#md" x="80.8" y="384.96"/><use href="#md" x="91.3" y="384.93"/><use href="#md" x="101.6" y="384.9"/><use href="#md" x="111.7" y="384.86"/><use href="#md" x="121.3" y="384.83"/><use href="#md" x="130.4" y="384.8"/><use href="#md" x="139" y="384.78"/><use href="#md" x="147.5" y="384.75"/><use href="#md" x="155.5" y="384.72"/><use href="#md" x="163.2" y="384.7"/><use href="#md" x="170.4" y="384.67"/><use href="#md" x="177.4" y="384.65"/><use href="#md" x="183.9" y="384.63"/><use href="#md" x="190.2" y="384.61"/><use href="#md" x="195.8" y="384.59"/><use href="#md" x="201.3" y="384.57"/><use href="#md" x="206.2" y="384.56"/><use href="#md" x="210.8" y="384.54"/><use href="#md" x="214.8" y="384.53"/><use href="#md" x="218.1" y="384.52"/><use href="#md" x="220.9" y="384.51"/><use href="#md" x="223.4" y="384.5"/><use href="#md" x="225.5" y="384.49"/></g>
<path d="M69.9 378.5 L80.8 378.64 L91.3 378.86 L101.6 379.13 L111.7 379.44 L121.3 379.78 L130.4 380.13 L139 380.47 L147.5 380.83 L155.5 381.16 L163.2 381.5 L170.4 381.88 L177.4 382.35 L183.9 382.9 L190.2 383.61 L195.8 384.97 L201.3 386.61 L206.2 388.33 L210.8 389.86 L214.8 391.06 L218.1 392 L220.9 392.76 L223.4 393.4 L225.5 393.91" fill="none" stroke="#ec3038" stroke-width="1.2"/>
<g fill="#fff" stroke="#ec3038" stroke-width="1.15" stroke-linejoin="round"><use href="#md" x="69.9" y="378.5"/><use href="#md" x="80.8" y="378.64"/><use href="#md" x="91.3" y="378.86"/><use href="#md" x="101.6" y="379.13"/><use href="#md" x="111.7" y="379.44"/><use href="#md" x="121.3" y="379.78"/><use href="#md" x="130.4" y="380.13"/><use href="#md" x="139" y="380.47"/><use href="#md" x="147.5" y="380.83"/><use href="#md" x="155.5" y="381.16"/><use href="#md" x="163.2" y="381.5"/><use href="#md" x="170.4" y="381.88"/><use href="#md" x="177.4" y="382.35"/><use href="#md" x="183.9" y="382.9"/><use href="#md" x="190.2" y="383.61"/><use href="#md" x="195.8" y="384.97"/><use href="#md" x="201.3" y="386.61"/><use href="#md" x="206.2" y="388.33"/><use href="#md" x="210.8" y="389.86"/><use href="#md" x="214.8" y="391.06"/><use href="#md" x="218.1" y="392"/><use href="#md" x="220.9" y="392.76"/><use href="#md" x="223.4" y="393.4"/><use href="#md" x="225.5" y="393.91"/></g>
<path d="M69.9 372.6 L80.8 372.62 L91.3 372.67 L101.6 372.75 L111.7 372.85 L121.3 372.97 L130.4 373.17 L139 373.45 L147.5 373.84 L155.5 374.65 L163.2 375.93 L170.4 377.39 L177.4 378.88 L183.9 380.46 L190.2 382.65 L195.8 385.84 L201.3 389.19 L206.2 392.09 L210.8 394.86 L214.8 397.32 L218.1 399.37 L220.9 401.14 L223.4 402.74 L225.5 404.1" fill="none" stroke="#3a72ec" stroke-width="1.2"/>
<g fill="#fff" stroke="#3a72ec" stroke-width="1.15" stroke-linejoin="round"><use href="#md" x="69.9" y="372.6"/><use href="#md" x="80.8" y="372.62"/><use href="#md" x="91.3" y="372.67"/><use href="#md" x="101.6" y="372.75"/><use href="#md" x="111.7" y="372.85"/><use href="#md" x="121.3" y="372.97"/><use href="#md" x="130.4" y="373.17"/><use href="#md" x="139" y="373.45"/><use href="#md" x="147.5" y="373.84"/><use href="#md" x="155.5" y="374.65"/><use href="#md" x="163.2" y="375.93"/><use href="#md" x="170.4" y="377.39"/><use href="#md" x="177.4" y="378.88"/><use href="#md" x="183.9" y="380.46"/><use href="#md" x="190.2" y="382.65"/><use href="#md" x="195.8" y="385.84"/><use href="#md" x="201.3" y="389.19"/><use href="#md" x="206.2" y="392.09"/><use href="#md" x="210.8" y="394.86"/><use href="#md" x="214.8" y="397.32"/><use href="#md" x="218.1" y="399.37"/><use href="#md" x="220.9" y="401.14"/><use href="#md" x="223.4" y="402.74"/><use href="#md" x="225.5" y="404.1"/></g>
<path d="M69.9 372.9 L80.8 373 L91.3 373.2 L101.6 373.46 L111.7 373.76 L121.3 374.08 L130.4 374.46 L139 374.94 L147.5 375.55 L155.5 376.47 L163.2 377.73 L170.4 379.12 L177.4 380.58 L183.9 382.18 L190.2 384.33 L195.8 387.32 L201.3 390.28 L206.2 392.7 L210.8 394.94 L214.8 396.85 L218.1 398.39 L220.9 399.68 L223.4 400.82 L225.5 401.76" fill="none" stroke="#3fae58" stroke-width="1.2"/>
<g fill="#fff" stroke="#3fae58" stroke-width="1.15" stroke-linejoin="round"><use href="#md" x="69.9" y="372.9"/><use href="#md" x="80.8" y="373"/><use href="#md" x="91.3" y="373.2"/><use href="#md" x="101.6" y="373.46"/><use href="#md" x="111.7" y="373.76"/><use href="#md" x="121.3" y="374.08"/><use href="#md" x="130.4" y="374.46"/><use href="#md" x="139" y="374.94"/><use href="#md" x="147.5" y="375.55"/><use href="#md" x="155.5" y="376.47"/><use href="#md" x="163.2" y="377.73"/><use href="#md" x="170.4" y="379.12"/><use href="#md" x="177.4" y="380.58"/><use href="#md" x="183.9" y="382.18"/><use href="#md" x="190.2" y="384.33"/><use href="#md" x="195.8" y="387.32"/><use href="#md" x="201.3" y="390.28"/><use href="#md" x="206.2" y="392.7"/><use href="#md" x="210.8" y="394.94"/><use href="#md" x="214.8" y="396.85"/><use href="#md" x="218.1" y="398.39"/><use href="#md" x="220.9" y="399.68"/><use href="#md" x="223.4" y="400.82"/><use href="#md" x="225.5" y="401.76"/></g>
<path d="M69.9 375.8 L80.8 375.9 L91.3 376.18 L101.6 376.6 L111.7 377.13 L121.3 377.72 L130.4 378.35 L139 378.99 L147.5 379.65 L155.5 380.51 L163.2 381.62 L170.4 382.83 L177.4 384.08 L183.9 385.23 L190.2 386.3 L195.8 387.25 L201.3 388.26 L206.2 389.21 L210.8 390.14 L214.8 390.98 L218.1 391.7 L220.9 392.33 L223.4 392.91 L225.5 393.4" fill="none" stroke="#a866ee" stroke-width="1.2"/>
<g fill="#fff" stroke="#a866ee" stroke-width="1.15" stroke-linejoin="round"><use href="#md" x="69.9" y="375.8"/><use href="#md" x="80.8" y="375.9"/><use href="#md" x="91.3" y="376.18"/><use href="#md" x="101.6" y="376.6"/><use href="#md" x="111.7" y="377.13"/><use href="#md" x="121.3" y="377.72"/><use href="#md" x="130.4" y="378.35"/><use href="#md" x="139" y="378.99"/><use href="#md" x="147.5" y="379.65"/><use href="#md" x="155.5" y="380.51"/><use href="#md" x="163.2" y="381.62"/><use href="#md" x="170.4" y="382.83"/><use href="#md" x="177.4" y="384.08"/><use href="#md" x="183.9" y="385.23"/><use href="#md" x="190.2" y="386.3"/><use href="#md" x="195.8" y="387.25"/><use href="#md" x="201.3" y="388.26"/><use href="#md" x="206.2" y="389.21"/><use href="#md" x="210.8" y="390.14"/><use href="#md" x="214.8" y="390.98"/><use href="#md" x="218.1" y="391.7"/><use href="#md" x="220.9" y="392.33"/><use href="#md" x="223.4" y="392.91"/><use href="#md" x="225.5" y="393.4"/></g>
</g>
<line x1="200.1" y1="392" x2="200.1" y2="455.2" stroke="#a975ee" stroke-width="1.5" stroke-dasharray="6.3 3.4"/>
<text x="148.25" y="450.8" font-size="11.6" fill="#a975ee">6.0 × <tspan class="o1">1</tspan>0<tspan font-size="7.6" dy="-4.6">-3</tspan></text>
<path d="M69.9 350.54h2.4M69.9 385.43h2.4M69.9 420.31h2.4M69.9 455.2h2.4M69.9 367.99h1.6M69.9 402.87h1.6M69.9 437.76h1.6M69.9 455.2v-2.4M113.5 455.2v-2.4M157.1 455.2v-2.4M200.69 455.2v-2.4M91.7 455.2v-1.6M135.3 455.2v-1.6M178.89 455.2v-1.6M222.49 455.2v-1.6" stroke="#1a1a1a" stroke-width="1.1" fill="none"/>
<text x="66.8" y="354.34" font-size="10.9" text-anchor="end" fill="#1c1c1c" stroke="#1c1c1c" stroke-width="0.25">2×<tspan class="o1">1</tspan>0<tspan font-size="7" dy="-4.2">-3</tspan></text>
<text x="66.8" y="389.23" font-size="10.9" text-anchor="end" fill="#1c1c1c" stroke="#1c1c1c" stroke-width="0.25">0</text>
<text x="66.8" y="424.11" font-size="10.9" text-anchor="end" fill="#1c1c1c" stroke="#1c1c1c" stroke-width="0.25">-2×<tspan class="o1">1</tspan>0<tspan font-size="7" dy="-4.2">-3</tspan></text>
<text x="66.8" y="459" font-size="10.9" text-anchor="end" fill="#1c1c1c" stroke="#1c1c1c" stroke-width="0.25">-4×<tspan class="o1">1</tspan>0<tspan font-size="7" dy="-4.2">-3</tspan></text>
<text x="69.6" y="467.6" font-size="10.9" text-anchor="middle" fill="#1c1c1c" stroke="#1c1c1c" stroke-width="0.25">0</text>
<text x="113.2" y="467.6" font-size="10.9" text-anchor="middle" fill="#1c1c1c" stroke="#1c1c1c" stroke-width="0.25">2×<tspan class="o1">1</tspan>0<tspan font-size="7" dy="-4.2">-3</tspan></text>
<text x="156.8" y="467.6" font-size="10.9" text-anchor="middle" fill="#1c1c1c" stroke="#1c1c1c" stroke-width="0.25">4×<tspan class="o1">1</tspan>0<tspan font-size="7" dy="-4.2">-3</tspan></text>
<text x="200.39" y="467.6" font-size="10.9" text-anchor="middle" fill="#1c1c1c" stroke="#1c1c1c" stroke-width="0.25">6×<tspan class="o1">1</tspan>0<tspan font-size="7" dy="-4.2">-3</tspan></text>
<text x="147.45" y="477.7" font-size="11.15" text-anchor="middle" fill="#1c1c1c" stroke="#1c1c1c" stroke-width="0.25">Distance to the droplet center / m</text>
<text transform="translate(29.9 460.9) rotate(-90)" x="0" y="0" font-size="11.15" fill="#1c1c1c" stroke="#1c1c1c" stroke-width="0.25">Total current density / A<tspan dx="-0.9">·</tspan><tspan dx="-0.8">m</tspan><tspan font-size="7.6" dy="-3.3">-2</tspan></text>
<path d="M72.1 406.4H87.1" stroke="#454545" stroke-width="1.2"/>
<path d="M79.7 402.4L83.3 406.4L79.7 410.4L76.1 406.4Z" fill="#fff" stroke="#454545" stroke-width="1.15" stroke-linejoin="round"/>
<text x="89.1" y="409" font-size="9" text-anchor="start" fill="#1c1c1c" stroke="#1c1c1c" stroke-width="0.05">0 h</text>
<path d="M72.1 417.1H87.1" stroke="#ec3038" stroke-width="1.2"/>
<path d="M79.7 413.1L83.3 417.1L79.7 421.1L76.1 417.1Z" fill="#fff" stroke="#ec3038" stroke-width="1.15" stroke-linejoin="round"/>
<text x="89.1" y="419.7" font-size="9" text-anchor="start" fill="#1c1c1c" stroke="#1c1c1c" stroke-width="0.05">0.5 h</text>
<path d="M72.1 427.7H87.1" stroke="#3a72ec" stroke-width="1.2"/>
<path d="M79.7 423.7L83.3 427.7L79.7 431.7L76.1 427.7Z" fill="#fff" stroke="#3a72ec" stroke-width="1.15" stroke-linejoin="round"/>
<text x="89.1" y="430.3" font-size="9" text-anchor="start" fill="#1c1c1c" stroke="#1c1c1c" stroke-width="0.05"><tspan class="o1">1</tspan> h</text>
<path d="M72.1 438.2H87.1" stroke="#3fae58" stroke-width="1.2"/>
<path d="M79.7 434.2L83.3 438.2L79.7 442.2L76.1 438.2Z" fill="#fff" stroke="#3fae58" stroke-width="1.15" stroke-linejoin="round"/>
<text x="89.1" y="440.8" font-size="9" text-anchor="start" fill="#1c1c1c" stroke="#1c1c1c" stroke-width="0.05"><tspan class="o1">1</tspan>.5 h</text>
<path d="M72.1 448.6H87.1" stroke="#a866ee" stroke-width="1.2"/>
<path d="M79.7 444.6L83.3 448.6L79.7 452.6L76.1 448.6Z" fill="#fff" stroke="#a866ee" stroke-width="1.15" stroke-linejoin="round"/>
<text x="89.1" y="451.2" font-size="9" text-anchor="start" fill="#1c1c1c" stroke="#1c1c1c" stroke-width="0.05">2 h</text>
<text x="0.1" y="331.9" font-size="20.5" font-weight="bold" fill="#000">c</text>
<text x="11.9" y="337.1" font-size="14.3" font-weight="bold" fill="#000"><tspan class="o1">1</tspan></text>
<rect x="297.6" y="333.1" width="153.8" height="122.1" fill="none" stroke="#1a1a1a" stroke-width="1.35"/>
<g clip-path="url(#cpc1)">
<path d="M297.6 385.7 L308.49 385.7 L318.99 385.7 L329.28 385.7 L339.37 385.7 L348.97 385.7 L358.06 385.7 L366.66 385.7 L375.15 385.7 L383.14 385.7 L390.84 385.7 L398.03 385.7 L405.03 385.7 L411.53 385.7 L417.82 385.7 L423.42 385.7 L428.91 385.7 L433.81 385.7 L438.41 385.7 L442.41 385.7 L445.7 385.7 L448.5 385.7 L451 385.7 L453.1 385.7" fill="none" stroke="#454545" stroke-width="1.2"/>
<g fill="#fff" stroke="#454545" stroke-width="1.15" stroke-linejoin="round"><use href="#md" x="297.6" y="385.7"/><use href="#md" x="308.49" y="385.7"/><use href="#md" x="318.99" y="385.7"/><use href="#md" x="329.28" y="385.7"/><use href="#md" x="339.37" y="385.7"/><use href="#md" x="348.97" y="385.7"/><use href="#md" x="358.06" y="385.7"/><use href="#md" x="366.66" y="385.7"/><use href="#md" x="375.15" y="385.7"/><use href="#md" x="383.14" y="385.7"/><use href="#md" x="390.84" y="385.7"/><use href="#md" x="398.03" y="385.7"/><use href="#md" x="405.03" y="385.7"/><use href="#md" x="411.53" y="385.7"/><use href="#md" x="417.82" y="385.7"/><use href="#md" x="423.42" y="385.7"/><use href="#md" x="428.91" y="385.7"/><use href="#md" x="433.81" y="385.7"/><use href="#md" x="438.41" y="385.7"/><use href="#md" x="442.41" y="385.7"/><use href="#md" x="445.7" y="385.7"/><use href="#md" x="448.5" y="385.7"/><use href="#md" x="451" y="385.7"/><use href="#md" x="453.1" y="385.7"/></g>
<path d="M297.6 361.7 L308.49 361.73 L318.99 361.82 L329.28 361.95 L339.37 362.12 L348.97 362.33 L358.06 362.72 L366.66 363.26 L375.15 363.93 L383.14 365.05 L390.84 366.87 L398.03 368.51 L405.03 371.33 L411.53 374.28 L417.82 377.97 L423.42 382.35 L428.91 388.34 L433.81 394.82 L438.41 401.26 L442.41 406.89 L445.7 411.61 L448.5 415.7 L451 419.4 L453.1 422.54" fill="none" stroke="#ec3038" stroke-width="1.2"/>
<g fill="#fff" stroke="#ec3038" stroke-width="1.15" stroke-linejoin="round"><use href="#md" x="297.6" y="361.7"/><use href="#md" x="308.49" y="361.73"/><use href="#md" x="318.99" y="361.82"/><use href="#md" x="329.28" y="361.95"/><use href="#md" x="339.37" y="362.12"/><use href="#md" x="348.97" y="362.33"/><use href="#md" x="358.06" y="362.72"/><use href="#md" x="366.66" y="363.26"/><use href="#md" x="375.15" y="363.93"/><use href="#md" x="383.14" y="365.05"/><use href="#md" x="390.84" y="366.87"/><use href="#md" x="398.03" y="368.51"/><use href="#md" x="405.03" y="371.33"/><use href="#md" x="411.53" y="374.28"/><use href="#md" x="417.82" y="377.97"/><use href="#md" x="423.42" y="382.35"/><use href="#md" x="428.91" y="388.34"/><use href="#md" x="433.81" y="394.82"/><use href="#md" x="438.41" y="401.26"/><use href="#md" x="442.41" y="406.89"/><use href="#md" x="445.7" y="411.61"/><use href="#md" x="448.5" y="415.7"/><use href="#md" x="451" y="419.4"/><use href="#md" x="453.1" y="422.54"/></g>
<path d="M297.6 366.9 L308.49 367.03 L318.99 367.35 L329.28 367.81 L339.37 368.35 L348.97 368.94 L358.06 369.74 L366.66 370.77 L375.15 372.07 L383.14 374.23 L390.84 376.07 L398.03 377.71 L405.03 380.53 L411.53 382.58 L417.82 385.61 L423.42 387.79 L428.91 390.95 L433.81 394.27 L438.41 397.13 L442.41 399.52 L445.7 401.6 L448.5 403.51 L451 405.31 L453.1 406.86" fill="none" stroke="#3a72ec" stroke-width="1.2"/>
<g fill="#fff" stroke="#3a72ec" stroke-width="1.15" stroke-linejoin="round"><use href="#md" x="297.6" y="366.9"/><use href="#md" x="308.49" y="367.03"/><use href="#md" x="318.99" y="367.35"/><use href="#md" x="329.28" y="367.81"/><use href="#md" x="339.37" y="368.35"/><use href="#md" x="348.97" y="368.94"/><use href="#md" x="358.06" y="369.74"/><use href="#md" x="366.66" y="370.77"/><use href="#md" x="375.15" y="372.07"/><use href="#md" x="383.14" y="374.23"/><use href="#md" x="390.84" y="376.07"/><use href="#md" x="398.03" y="377.71"/><use href="#md" x="405.03" y="380.53"/><use href="#md" x="411.53" y="382.58"/><use href="#md" x="417.82" y="385.61"/><use href="#md" x="423.42" y="387.79"/><use href="#md" x="428.91" y="390.95"/><use href="#md" x="433.81" y="394.27"/><use href="#md" x="438.41" y="397.13"/><use href="#md" x="442.41" y="399.52"/><use href="#md" x="445.7" y="401.6"/><use href="#md" x="448.5" y="403.51"/><use href="#md" x="451" y="405.31"/><use href="#md" x="453.1" y="406.86"/></g>
<path d="M297.6 376.9 L308.49 377.09 L318.99 377.41 L329.28 377.82 L339.37 378.29 L348.97 378.79 L358.06 379.44 L366.66 380.16 L375.15 380.93 L383.14 381.72 L390.84 382.59 L398.03 383.46 L405.03 384.41 L411.53 385.4 L417.82 386.55 L423.42 387.97 L428.91 389.61 L433.81 391.02 L438.41 392.13 L442.41 393.02 L445.7 393.71 L448.5 394.26 L451 394.73 L453.1 395.1" fill="none" stroke="#3fae58" stroke-width="1.2"/>
<g fill="#fff" stroke="#3fae58" stroke-width="1.15" stroke-linejoin="round"><use href="#md" x="297.6" y="376.9"/><use href="#md" x="308.49" y="377.09"/><use href="#md" x="318.99" y="377.41"/><use href="#md" x="329.28" y="377.82"/><use href="#md" x="339.37" y="378.29"/><use href="#md" x="348.97" y="378.79"/><use href="#md" x="358.06" y="379.44"/><use href="#md" x="366.66" y="380.16"/><use href="#md" x="375.15" y="380.93"/><use href="#md" x="383.14" y="381.72"/><use href="#md" x="390.84" y="382.59"/><use href="#md" x="398.03" y="383.46"/><use href="#md" x="405.03" y="384.41"/><use href="#md" x="411.53" y="385.4"/><use href="#md" x="417.82" y="386.55"/><use href="#md" x="423.42" y="387.97"/><use href="#md" x="428.91" y="389.61"/><use href="#md" x="433.81" y="391.02"/><use href="#md" x="438.41" y="392.13"/><use href="#md" x="442.41" y="393.02"/><use href="#md" x="445.7" y="393.71"/><use href="#md" x="448.5" y="394.26"/><use href="#md" x="451" y="394.73"/><use href="#md" x="453.1" y="395.1"/></g>
<path d="M297.6 381.5 L308.49 381.68 L318.99 381.92 L329.28 382.21 L339.37 382.54 L348.97 382.89 L358.06 383.25 L366.66 383.61 L375.15 383.97 L383.14 384.38 L390.84 384.87 L398.03 385.33 L405.03 385.7 L411.53 385.99 L417.82 386.25 L423.42 386.47 L428.91 386.67 L433.81 386.84 L438.41 386.98 L442.41 387.09 L445.7 387.17 L448.5 387.24 L451 387.29 L453.1 387.33" fill="none" stroke="#a866ee" stroke-width="1.2"/>
<g fill="#fff" stroke="#a866ee" stroke-width="1.15" stroke-linejoin="round"><use href="#md" x="297.6" y="381.5"/><use href="#md" x="308.49" y="381.68"/><use href="#md" x="318.99" y="381.92"/><use href="#md" x="329.28" y="382.21"/><use href="#md" x="339.37" y="382.54"/><use href="#md" x="348.97" y="382.89"/><use href="#md" x="358.06" y="383.25"/><use href="#md" x="366.66" y="383.61"/><use href="#md" x="375.15" y="383.97"/><use href="#md" x="383.14" y="384.38"/><use href="#md" x="390.84" y="384.87"/><use href="#md" x="398.03" y="385.33"/><use href="#md" x="405.03" y="385.7"/><use href="#md" x="411.53" y="385.99"/><use href="#md" x="417.82" y="386.25"/><use href="#md" x="423.42" y="386.47"/><use href="#md" x="428.91" y="386.67"/><use href="#md" x="433.81" y="386.84"/><use href="#md" x="438.41" y="386.98"/><use href="#md" x="442.41" y="387.09"/><use href="#md" x="445.7" y="387.17"/><use href="#md" x="448.5" y="387.24"/><use href="#md" x="451" y="387.29"/><use href="#md" x="453.1" y="387.33"/></g>
</g>
<line x1="425" y1="392" x2="425" y2="455.2" stroke="#a975ee" stroke-width="1.5" stroke-dasharray="6.3 3.4"/>
<text x="369.15" y="452" font-size="11.6" fill="#a975ee">6.0 × <tspan class="o1">1</tspan>0<tspan font-size="7.6" dy="-4.6">-3</tspan></text>
<path d="M297.6 350.54h2.4M297.6 385.43h2.4M297.6 420.31h2.4M297.6 455.2h2.4M297.6 367.99h1.6M297.6 402.87h1.6M297.6 437.76h1.6M297.6 455.2v-2.4M341.17 455.2v-2.4M384.74 455.2v-2.4M428.31 455.2v-2.4M319.38 455.2v-1.6M362.95 455.2v-1.6M406.52 455.2v-1.6M450.09 455.2v-1.6" stroke="#1a1a1a" stroke-width="1.1" fill="none"/>
<text x="294.5" y="354.34" font-size="10.9" text-anchor="end" fill="#1c1c1c" stroke="#1c1c1c" stroke-width="0.25">2×<tspan class="o1">1</tspan>0<tspan font-size="7" dy="-4.2">-3</tspan></text>
<text x="294.5" y="389.23" font-size="10.9" text-anchor="end" fill="#1c1c1c" stroke="#1c1c1c" stroke-width="0.25">0</text>
<text x="294.5" y="424.11" font-size="10.9" text-anchor="end" fill="#1c1c1c" stroke="#1c1c1c" stroke-width="0.25">-2×<tspan class="o1">1</tspan>0<tspan font-size="7" dy="-4.2">-3</tspan></text>
<text x="294.5" y="459" font-size="10.9" text-anchor="end" fill="#1c1c1c" stroke="#1c1c1c" stroke-width="0.25">-4×<tspan class="o1">1</tspan>0<tspan font-size="7" dy="-4.2">-3</tspan></text>
<text x="297.3" y="467.6" font-size="10.9" text-anchor="middle" fill="#1c1c1c" stroke="#1c1c1c" stroke-width="0.25">0</text>
<text x="340.87" y="467.6" font-size="10.9" text-anchor="middle" fill="#1c1c1c" stroke="#1c1c1c" stroke-width="0.25">2×<tspan class="o1">1</tspan>0<tspan font-size="7" dy="-4.2">-3</tspan></text>
<text x="384.44" y="467.6" font-size="10.9" text-anchor="middle" fill="#1c1c1c" stroke="#1c1c1c" stroke-width="0.25">4×<tspan class="o1">1</tspan>0<tspan font-size="7" dy="-4.2">-3</tspan></text>
<text x="428.01" y="467.6" font-size="10.9" text-anchor="middle" fill="#1c1c1c" stroke="#1c1c1c" stroke-width="0.25">6×<tspan class="o1">1</tspan>0<tspan font-size="7" dy="-4.2">-3</tspan></text>
<text x="374.5" y="477.7" font-size="11.15" text-anchor="middle" fill="#1c1c1c" stroke="#1c1c1c" stroke-width="0.25">Distance to the droplet center / m</text>
<text transform="translate(256.7 462.1) rotate(-90)" x="0" y="0" font-size="11.15" fill="#1c1c1c" stroke="#1c1c1c" stroke-width="0.25">Total current density / A<tspan dx="-0.9">·</tspan><tspan dx="-0.8">m</tspan><tspan font-size="7.6" dy="-3.3">-2</tspan></text>
<path d="M300.2 406.8H314.9" stroke="#454545" stroke-width="1.2"/>
<path d="M307.5 402.8L311.1 406.8L307.5 410.8L303.9 406.8Z" fill="#fff" stroke="#454545" stroke-width="1.15" stroke-linejoin="round"/>
<text x="317.1" y="409.4" font-size="9" text-anchor="start" fill="#1c1c1c" stroke="#1c1c1c" stroke-width="0.05">0 h</text>
<path d="M300.2 417.6H314.9" stroke="#ec3038" stroke-width="1.2"/>
<path d="M307.5 413.6L311.1 417.6L307.5 421.6L303.9 417.6Z" fill="#fff" stroke="#ec3038" stroke-width="1.15" stroke-linejoin="round"/>
<text x="317.1" y="420.2" font-size="9" text-anchor="start" fill="#1c1c1c" stroke="#1c1c1c" stroke-width="0.05">0.5 h</text>
<path d="M300.2 428.3H314.9" stroke="#3a72ec" stroke-width="1.2"/>
<path d="M307.5 424.3L311.1 428.3L307.5 432.3L303.9 428.3Z" fill="#fff" stroke="#3a72ec" stroke-width="1.15" stroke-linejoin="round"/>
<text x="317.1" y="430.9" font-size="9" text-anchor="start" fill="#1c1c1c" stroke="#1c1c1c" stroke-width="0.05"><tspan class="o1">1</tspan> h</text>
<path d="M300.2 438.9H314.9" stroke="#3fae58" stroke-width="1.2"/>
<path d="M307.5 434.9L311.1 438.9L307.5 442.9L303.9 438.9Z" fill="#fff" stroke="#3fae58" stroke-width="1.15" stroke-linejoin="round"/>
<text x="317.1" y="441.5" font-size="9" text-anchor="start" fill="#1c1c1c" stroke="#1c1c1c" stroke-width="0.05"><tspan class="o1">1</tspan>.5 h</text>
<path d="M300.2 449.5H314.9" stroke="#a866ee" stroke-width="1.2"/>
<path d="M307.5 445.5L311.1 449.5L307.5 453.5L303.9 449.5Z" fill="#fff" stroke="#a866ee" stroke-width="1.15" stroke-linejoin="round"/>
<text x="317.1" y="452.1" font-size="9" text-anchor="start" fill="#1c1c1c" stroke="#1c1c1c" stroke-width="0.05">2 h</text>
<text x="226.5" y="335.3" font-size="20.5" font-weight="bold" fill="#000">c</text>
<text x="238.3" y="339.9" font-size="14.3" font-weight="bold" fill="#000">2</text>
<rect x="525.8" y="333.1" width="153.8" height="122.1" fill="none" stroke="#1a1a1a" stroke-width="1.35"/>
<g clip-path="url(#cpc2)">
<path d="M525.8 386.3 L536.69 386.26 L547.19 386.23 L557.48 386.2 L567.57 386.16 L577.17 386.13 L586.26 386.1 L594.86 386.08 L603.35 386.05 L611.34 386.02 L619.04 386 L626.23 385.97 L633.23 385.95 L639.73 385.93 L646.02 385.91 L651.62 385.89 L657.11 385.87 L662.01 385.86 L666.61 385.84 L670.61 385.83 L673.9 385.82 L676.7 385.81 L679.2 385.8 L681.3 385.79" fill="none" stroke="#454545" stroke-width="1.2"/>
<g fill="#fff" stroke="#454545" stroke-width="1.15" stroke-linejoin="round"><use href="#md" x="525.8" y="386.3"/><use href="#md" x="536.69" y="386.26"/><use href="#md" x="547.19" y="386.23"/><use href="#md" x="557.48" y="386.2"/><use href="#md" x="567.57" y="386.16"/><use href="#md" x="577.17" y="386.13"/><use href="#md" x="586.26" y="386.1"/><use href="#md" x="594.86" y="386.08"/><use href="#md" x="603.35" y="386.05"/><use href="#md" x="611.34" y="386.02"/><use href="#md" x="619.04" y="386"/><use href="#md" x="626.23" y="385.97"/><use href="#md" x="633.23" y="385.95"/><use href="#md" x="639.73" y="385.93"/><use href="#md" x="646.02" y="385.91"/><use href="#md" x="651.62" y="385.89"/><use href="#md" x="657.11" y="385.87"/><use href="#md" x="662.01" y="385.86"/><use href="#md" x="666.61" y="385.84"/><use href="#md" x="670.61" y="385.83"/><use href="#md" x="673.9" y="385.82"/><use href="#md" x="676.7" y="385.81"/><use href="#md" x="679.2" y="385.8"/><use href="#md" x="681.3" y="385.79"/></g>
<path d="M525.8 340.4 L536.69 340.62 L547.19 341.09 L557.48 342 L567.57 343.39 L577.17 345.2 L586.26 347.54 L594.86 350.64 L603.35 354.35 L611.34 358.29 L619.04 362.71 L626.23 367.83 L633.23 373.38 L639.73 378.78 L646.02 385.57 L651.62 392.48 L657.11 399.05 L662.01 404.54 L666.61 409.99 L670.61 415.32 L673.9 420.35 L676.7 424.77 L679.2 428.43 L681.3 431.39" fill="none" stroke="#ec3038" stroke-width="1.2"/>
<g fill="#fff" stroke="#ec3038" stroke-width="1.15" stroke-linejoin="round"><use href="#md" x="525.8" y="340.4"/><use href="#md" x="536.69" y="340.62"/><use href="#md" x="547.19" y="341.09"/><use href="#md" x="557.48" y="342"/><use href="#md" x="567.57" y="343.39"/><use href="#md" x="577.17" y="345.2"/><use href="#md" x="586.26" y="347.54"/><use href="#md" x="594.86" y="350.64"/><use href="#md" x="603.35" y="354.35"/><use href="#md" x="611.34" y="358.29"/><use href="#md" x="619.04" y="362.71"/><use href="#md" x="626.23" y="367.83"/><use href="#md" x="633.23" y="373.38"/><use href="#md" x="639.73" y="378.78"/><use href="#md" x="646.02" y="385.57"/><use href="#md" x="651.62" y="392.48"/><use href="#md" x="657.11" y="399.05"/><use href="#md" x="662.01" y="404.54"/><use href="#md" x="666.61" y="409.99"/><use href="#md" x="670.61" y="415.32"/><use href="#md" x="673.9" y="420.35"/><use href="#md" x="676.7" y="424.77"/><use href="#md" x="679.2" y="428.43"/><use href="#md" x="681.3" y="431.39"/></g>
<path d="M525.8 375 L536.69 375.21 L547.19 375.61 L557.48 376.12 L567.57 376.7 L577.17 377.4 L586.26 378.29 L594.86 379.26 L603.35 380.29 L611.34 381.37 L619.04 382.52 L626.23 383.69 L633.23 384.9 L639.73 386.08 L646.02 387.28 L651.62 388.42 L657.11 389.6 L662.01 390.7 L666.61 391.78 L670.61 392.74 L673.9 393.56 L676.7 394.26 L679.2 394.9 L681.3 395.44" fill="none" stroke="#3a72ec" stroke-width="1.2"/>
<g fill="#fff" stroke="#3a72ec" stroke-width="1.15" stroke-linejoin="round"><use href="#md" x="525.8" y="375"/><use href="#md" x="536.69" y="375.21"/><use href="#md" x="547.19" y="375.61"/><use href="#md" x="557.48" y="376.12"/><use href="#md" x="567.57" y="376.7"/><use href="#md" x="577.17" y="377.4"/><use href="#md" x="586.26" y="378.29"/><use href="#md" x="594.86" y="379.26"/><use href="#md" x="603.35" y="380.29"/><use href="#md" x="611.34" y="381.37"/><use href="#md" x="619.04" y="382.52"/><use href="#md" x="626.23" y="383.69"/><use href="#md" x="633.23" y="384.9"/><use href="#md" x="639.73" y="386.08"/><use href="#md" x="646.02" y="387.28"/><use href="#md" x="651.62" y="388.42"/><use href="#md" x="657.11" y="389.6"/><use href="#md" x="662.01" y="390.7"/><use href="#md" x="666.61" y="391.78"/><use href="#md" x="670.61" y="392.74"/><use href="#md" x="673.9" y="393.56"/><use href="#md" x="676.7" y="394.26"/><use href="#md" x="679.2" y="394.9"/><use href="#md" x="681.3" y="395.44"/></g>
<path d="M525.8 380.8 L536.69 381.01 L547.19 381.26 L557.48 381.55 L567.57 381.86 L577.17 382.18 L586.26 382.54 L594.86 382.92 L603.35 383.31 L611.34 383.67 L619.04 384.04 L626.23 384.4 L633.23 384.78 L639.73 385.16 L646.02 385.57 L651.62 385.96 L657.11 386.37 L662.01 386.76 L666.61 387.14 L670.61 387.49 L673.9 387.78 L676.7 388.03 L679.2 388.26 L681.3 388.46" fill="none" stroke="#3fae58" stroke-width="1.2"/>
<g fill="#fff" stroke="#3fae58" stroke-width="1.15" stroke-linejoin="round"><use href="#md" x="525.8" y="380.8"/><use href="#md" x="536.69" y="381.01"/><use href="#md" x="547.19" y="381.26"/><use href="#md" x="557.48" y="381.55"/><use href="#md" x="567.57" y="381.86"/><use href="#md" x="577.17" y="382.18"/><use href="#md" x="586.26" y="382.54"/><use href="#md" x="594.86" y="382.92"/><use href="#md" x="603.35" y="383.31"/><use href="#md" x="611.34" y="383.67"/><use href="#md" x="619.04" y="384.04"/><use href="#md" x="626.23" y="384.4"/><use href="#md" x="633.23" y="384.78"/><use href="#md" x="639.73" y="385.16"/><use href="#md" x="646.02" y="385.57"/><use href="#md" x="651.62" y="385.96"/><use href="#md" x="657.11" y="386.37"/><use href="#md" x="662.01" y="386.76"/><use href="#md" x="666.61" y="387.14"/><use href="#md" x="670.61" y="387.49"/><use href="#md" x="673.9" y="387.78"/><use href="#md" x="676.7" y="388.03"/><use href="#md" x="679.2" y="388.26"/><use href="#md" x="681.3" y="388.46"/></g>
<path d="M525.8 384.9 L536.69 384.92 L547.19 384.94 L557.48 384.96 L567.57 384.98 L577.17 385 L586.26 385.02 L594.86 385.03 L603.35 385.05 L611.34 385.07 L619.04 385.08 L626.23 385.1 L633.23 385.11 L639.73 385.12 L646.02 385.13 L651.62 385.15 L657.11 385.16 L662.01 385.17 L666.61 385.17 L670.61 385.18 L673.9 385.19 L676.7 385.19 L679.2 385.2 L681.3 385.2" fill="none" stroke="#a866ee" stroke-width="1.2"/>
<g fill="#fff" stroke="#a866ee" stroke-width="1.15" stroke-linejoin="round"><use href="#md" x="525.8" y="384.9"/><use href="#md" x="536.69" y="384.92"/><use href="#md" x="547.19" y="384.94"/><use href="#md" x="557.48" y="384.96"/><use href="#md" x="567.57" y="384.98"/><use href="#md" x="577.17" y="385"/><use href="#md" x="586.26" y="385.02"/><use href="#md" x="594.86" y="385.03"/><use href="#md" x="603.35" y="385.05"/><use href="#md" x="611.34" y="385.07"/><use href="#md" x="619.04" y="385.08"/><use href="#md" x="626.23" y="385.1"/><use href="#md" x="633.23" y="385.11"/><use href="#md" x="639.73" y="385.12"/><use href="#md" x="646.02" y="385.13"/><use href="#md" x="651.62" y="385.15"/><use href="#md" x="657.11" y="385.16"/><use href="#md" x="662.01" y="385.17"/><use href="#md" x="666.61" y="385.17"/><use href="#md" x="670.61" y="385.18"/><use href="#md" x="673.9" y="385.19"/><use href="#md" x="676.7" y="385.19"/><use href="#md" x="679.2" y="385.2"/><use href="#md" x="681.3" y="385.2"/></g>
</g>
<line x1="638.4" y1="389" x2="638.4" y2="455.2" stroke="#a975ee" stroke-width="1.5" stroke-dasharray="6.3 3.4"/>
<text x="587.05" y="452" font-size="11.6" fill="#a975ee">5.5 × <tspan class="o1">1</tspan>0<tspan font-size="7.6" dy="-4.6">-3</tspan></text>
<path d="M525.8 350.54h2.4M525.8 385.43h2.4M525.8 420.31h2.4M525.8 455.2h2.4M525.8 367.99h1.6M525.8 402.87h1.6M525.8 437.76h1.6M525.8 455.2v-2.4M569.37 455.2v-2.4M612.94 455.2v-2.4M656.51 455.2v-2.4M547.58 455.2v-1.6M591.15 455.2v-1.6M634.72 455.2v-1.6M678.29 455.2v-1.6" stroke="#1a1a1a" stroke-width="1.1" fill="none"/>
<text x="522.7" y="354.34" font-size="10.9" text-anchor="end" fill="#1c1c1c" stroke="#1c1c1c" stroke-width="0.25">2×<tspan class="o1">1</tspan>0<tspan font-size="7" dy="-4.2">-3</tspan></text>
<text x="522.7" y="389.23" font-size="10.9" text-anchor="end" fill="#1c1c1c" stroke="#1c1c1c" stroke-width="0.25">0</text>
<text x="522.7" y="424.11" font-size="10.9" text-anchor="end" fill="#1c1c1c" stroke="#1c1c1c" stroke-width="0.25">-2×<tspan class="o1">1</tspan>0<tspan font-size="7" dy="-4.2">-3</tspan></text>
<text x="522.7" y="459" font-size="10.9" text-anchor="end" fill="#1c1c1c" stroke="#1c1c1c" stroke-width="0.25">-4×<tspan class="o1">1</tspan>0<tspan font-size="7" dy="-4.2">-3</tspan></text>
<text x="525.5" y="467.6" font-size="10.9" text-anchor="middle" fill="#1c1c1c" stroke="#1c1c1c" stroke-width="0.25">0</text>
<text x="569.07" y="467.6" font-size="10.9" text-anchor="middle" fill="#1c1c1c" stroke="#1c1c1c" stroke-width="0.25">2×<tspan class="o1">1</tspan>0<tspan font-size="7" dy="-4.2">-3</tspan></text>
<text x="612.64" y="467.6" font-size="10.9" text-anchor="middle" fill="#1c1c1c" stroke="#1c1c1c" stroke-width="0.25">4×<tspan class="o1">1</tspan>0<tspan font-size="7" dy="-4.2">-3</tspan></text>
<text x="656.21" y="467.6" font-size="10.9" text-anchor="middle" fill="#1c1c1c" stroke="#1c1c1c" stroke-width="0.25">6×<tspan class="o1">1</tspan>0<tspan font-size="7" dy="-4.2">-3</tspan></text>
<text x="602.7" y="477.7" font-size="11.15" text-anchor="middle" fill="#1c1c1c" stroke="#1c1c1c" stroke-width="0.25">Distance to the droplet center / m</text>
<text transform="translate(484.9 461.7) rotate(-90)" x="0" y="0" font-size="11.15" fill="#1c1c1c" stroke="#1c1c1c" stroke-width="0.25">Total current density / A<tspan dx="-0.9">·</tspan><tspan dx="-0.8">m</tspan><tspan font-size="7.6" dy="-3.3">-2</tspan></text>
<path d="M528.2 406.8H543.5" stroke="#454545" stroke-width="1.2"/>
<path d="M535.8 402.8L539.4 406.8L535.8 410.8L532.2 406.8Z" fill="#fff" stroke="#454545" stroke-width="1.15" stroke-linejoin="round"/>
<text x="545.3" y="409.4" font-size="9" text-anchor="start" fill="#1c1c1c" stroke="#1c1c1c" stroke-width="0.05">0 h</text>
<path d="M528.2 417.6H543.5" stroke="#ec3038" stroke-width="1.2"/>
<path d="M535.8 413.6L539.4 417.6L535.8 421.6L532.2 417.6Z" fill="#fff" stroke="#ec3038" stroke-width="1.15" stroke-linejoin="round"/>
<text x="545.3" y="420.2" font-size="9" text-anchor="start" fill="#1c1c1c" stroke="#1c1c1c" stroke-width="0.05">0.5 h</text>
<path d="M528.2 428.3H543.5" stroke="#3a72ec" stroke-width="1.2"/>
<path d="M535.8 424.3L539.4 428.3L535.8 432.3L532.2 428.3Z" fill="#fff" stroke="#3a72ec" stroke-width="1.15" stroke-linejoin="round"/>
<text x="545.3" y="430.9" font-size="9" text-anchor="start" fill="#1c1c1c" stroke="#1c1c1c" stroke-width="0.05"><tspan class="o1">1</tspan> h</text>
<path d="M528.2 438.8H543.5" stroke="#3fae58" stroke-width="1.2"/>
<path d="M535.8 434.8L539.4 438.8L535.8 442.8L532.2 438.8Z" fill="#fff" stroke="#3fae58" stroke-width="1.15" stroke-linejoin="round"/>
<text x="545.3" y="441.4" font-size="9" text-anchor="start" fill="#1c1c1c" stroke="#1c1c1c" stroke-width="0.05"><tspan class="o1">1</tspan>.5 h</text>
<path d="M528.2 449.4H543.5" stroke="#a866ee" stroke-width="1.2"/>
<path d="M535.8 445.4L539.4 449.4L535.8 453.4L532.2 449.4Z" fill="#fff" stroke="#a866ee" stroke-width="1.15" stroke-linejoin="round"/>
<text x="545.3" y="452" font-size="9" text-anchor="start" fill="#1c1c1c" stroke="#1c1c1c" stroke-width="0.05">2 h</text>
<text x="454.2" y="335" font-size="20.5" font-weight="bold" fill="#000">c</text>
<text x="466.2" y="339.9" font-size="14.3" font-weight="bold" fill="#000">3</text>
<path d="M40.04 17.9 L40.04 10.1 L39.45 10.1 L39.15 10.66 L38.66 11.23 L37.95 11.82 L37.18 12.29 L37.18 13.19 L37.73 12.93 L38.39 12.56 L38.84 12.23 L39.13 11.95 L39.13 17.9Z" fill="#1c1c1c" stroke="#1c1c1c" stroke-width="0.25"/>
<path d="M52.48 17.9 L52.48 10.1 L51.89 10.1 L51.59 10.66 L51.1 11.23 L50.39 11.82 L49.61 12.29 L49.61 13.19 L50.17 12.93 L50.82 12.56 L51.28 12.23 L51.56 11.95 L51.56 17.9Z" fill="#1c1c1c" stroke="#1c1c1c" stroke-width="0.25"/>
<path d="M65.5 13.7 L65.5 8.69 L65.12 8.69 L64.92 9.05 L64.61 9.42 L64.15 9.79 L63.66 10.09 L63.66 10.68 L64.01 10.51 L64.43 10.27 L64.73 10.06 L64.91 9.88 L64.91 13.7Z" fill="#1c1c1c" stroke="#1c1c1c" stroke-width="0.25"/>
<path d="M52.5 79.6 L52.5 71.8 L51.91 71.8 L51.6 72.36 L51.11 72.93 L50.4 73.52 L49.63 73.99 L49.63 74.89 L50.18 74.63 L50.84 74.26 L51.3 73.93 L51.58 73.65 L51.58 79.6Z" fill="#1c1c1c" stroke="#1c1c1c" stroke-width="0.25"/>
<path d="M136.09 149 L136.09 141.2 L135.5 141.2 L135.19 141.76 L134.7 142.33 L133.99 142.92 L133.22 143.39 L133.22 144.29 L133.78 144.03 L134.43 143.66 L134.89 143.33 L135.17 143.05 L135.17 149Z" fill="#1c1c1c" stroke="#1c1c1c" stroke-width="0.25"/>
<path d="M201.48 149 L201.48 141.2 L200.89 141.2 L200.58 141.76 L200.09 142.33 L199.38 142.92 L198.61 143.39 L198.61 144.29 L199.17 144.03 L199.82 143.66 L200.28 143.33 L200.56 143.05 L200.56 149Z" fill="#1c1c1c" stroke="#1c1c1c" stroke-width="0.25"/>
<path d="M204.95 46.7 L204.95 40.26 L204.46 40.26 L204.21 40.72 L203.81 41.19 L203.22 41.68 L202.58 42.07 L202.58 42.81 L203.04 42.6 L203.58 42.29 L203.96 42.02 L204.19 41.79 L204.19 46.7Z" fill="#1c1c1c" stroke="#1c1c1c" stroke-width="0.05"/>
<path d="M204.95 57.3 L204.95 50.86 L204.46 50.86 L204.21 51.32 L203.81 51.79 L203.22 52.28 L202.58 52.66 L202.58 53.41 L203.04 53.2 L203.58 52.89 L203.96 52.62 L204.19 52.39 L204.19 57.3Z" fill="#1c1c1c" stroke="#1c1c1c" stroke-width="0.05"/>
<path d="M20.76 16.9 L20.76 6.66 L19.19 6.66 L18.76 7.43 L17.76 8.29 L16.76 8.86 L15.76 9.24 L15.76 11.04 L16.9 10.61 L17.9 10.04 L18.79 9.39 L18.79 16.9Z" fill="#000" stroke="#000" stroke-width="0"/>
<path d="M267.74 17.9 L267.74 10.1 L267.15 10.1 L266.85 10.66 L266.36 11.23 L265.65 11.82 L264.88 12.29 L264.88 13.19 L265.43 12.93 L266.09 12.56 L266.54 12.23 L266.83 11.95 L266.83 17.9Z" fill="#1c1c1c" stroke="#1c1c1c" stroke-width="0.25"/>
<path d="M280.18 17.9 L280.18 10.1 L279.59 10.1 L279.29 10.66 L278.8 11.23 L278.09 11.82 L277.31 12.29 L277.31 13.19 L277.87 12.93 L278.52 12.56 L278.98 12.23 L279.26 11.95 L279.26 17.9Z" fill="#1c1c1c" stroke="#1c1c1c" stroke-width="0.25"/>
<path d="M293.2 13.7 L293.2 8.69 L292.82 8.69 L292.62 9.05 L292.31 9.42 L291.85 9.79 L291.36 10.09 L291.36 10.68 L291.71 10.51 L292.13 10.27 L292.43 10.06 L292.61 9.88 L292.61 13.7Z" fill="#1c1c1c" stroke="#1c1c1c" stroke-width="0.25"/>
<path d="M280.2 79.6 L280.2 71.8 L279.61 71.8 L279.3 72.36 L278.81 72.93 L278.1 73.52 L277.33 73.99 L277.33 74.89 L277.88 74.63 L278.54 74.26 L279 73.93 L279.28 73.65 L279.28 79.6Z" fill="#1c1c1c" stroke="#1c1c1c" stroke-width="0.25"/>
<path d="M363.74 149 L363.74 141.2 L363.15 141.2 L362.84 141.76 L362.35 142.33 L361.64 142.92 L360.87 143.39 L360.87 144.29 L361.43 144.03 L362.08 143.66 L362.54 143.33 L362.82 143.05 L362.82 149Z" fill="#1c1c1c" stroke="#1c1c1c" stroke-width="0.25"/>
<path d="M429.1 149 L429.1 141.2 L428.51 141.2 L428.2 141.76 L427.71 142.33 L427 142.92 L426.23 143.39 L426.23 144.29 L426.79 144.03 L427.44 143.66 L427.9 143.33 L428.18 143.05 L428.18 149Z" fill="#1c1c1c" stroke="#1c1c1c" stroke-width="0.25"/>
<path d="M433.35 45.8 L433.35 39.36 L432.86 39.36 L432.61 39.82 L432.2 40.29 L431.62 40.78 L430.98 41.16 L430.98 41.91 L431.44 41.7 L431.98 41.39 L432.36 41.12 L432.59 40.89 L432.59 45.8Z" fill="#1c1c1c" stroke="#1c1c1c" stroke-width="0.05"/>
<path d="M433.35 56.4 L433.35 49.96 L432.86 49.96 L432.61 50.42 L432.2 50.89 L431.62 51.38 L430.98 51.77 L430.98 52.51 L431.44 52.3 L431.98 51.99 L432.36 51.72 L432.59 51.49 L432.59 56.4Z" fill="#1c1c1c" stroke="#1c1c1c" stroke-width="0.05"/>
<path d="M495.94 17.9 L495.94 10.1 L495.35 10.1 L495.05 10.66 L494.56 11.23 L493.85 11.82 L493.08 12.29 L493.08 13.19 L493.63 12.93 L494.29 12.56 L494.74 12.23 L495.03 11.95 L495.03 17.9Z" fill="#1c1c1c" stroke="#1c1c1c" stroke-width="0.25"/>
<path d="M508.38 17.9 L508.38 10.1 L507.79 10.1 L507.49 10.66 L507 11.23 L506.29 11.82 L505.51 12.29 L505.51 13.19 L506.07 12.93 L506.72 12.56 L507.18 12.23 L507.46 11.95 L507.46 17.9Z" fill="#1c1c1c" stroke="#1c1c1c" stroke-width="0.25"/>
<path d="M521.4 13.7 L521.4 8.69 L521.02 8.69 L520.82 9.05 L520.51 9.42 L520.05 9.79 L519.56 10.09 L519.56 10.68 L519.91 10.51 L520.33 10.27 L520.63 10.06 L520.81 9.88 L520.81 13.7Z" fill="#1c1c1c" stroke="#1c1c1c" stroke-width="0.25"/>
<path d="M508.4 79.6 L508.4 71.8 L507.81 71.8 L507.5 72.36 L507.01 72.93 L506.3 73.52 L505.53 73.99 L505.53 74.89 L506.08 74.63 L506.74 74.26 L507.2 73.93 L507.48 73.65 L507.48 79.6Z" fill="#1c1c1c" stroke="#1c1c1c" stroke-width="0.25"/>
<path d="M591.94 149 L591.94 141.2 L591.35 141.2 L591.04 141.76 L590.55 142.33 L589.84 142.92 L589.07 143.39 L589.07 144.29 L589.63 144.03 L590.28 143.66 L590.74 143.33 L591.02 143.05 L591.02 149Z" fill="#1c1c1c" stroke="#1c1c1c" stroke-width="0.25"/>
<path d="M657.3 149 L657.3 141.2 L656.71 141.2 L656.4 141.76 L655.91 142.33 L655.2 142.92 L654.43 143.39 L654.43 144.29 L654.99 144.03 L655.64 143.66 L656.1 143.33 L656.38 143.05 L656.38 149Z" fill="#1c1c1c" stroke="#1c1c1c" stroke-width="0.25"/>
<path d="M660.25 58.6 L660.25 52.16 L659.76 52.16 L659.51 52.62 L659.11 53.09 L658.52 53.58 L657.88 53.96 L657.88 54.71 L658.34 54.5 L658.88 54.19 L659.26 53.92 L659.49 53.69 L659.49 58.6Z" fill="#1c1c1c" stroke="#1c1c1c" stroke-width="0.05"/>
<path d="M660.25 69.2 L660.25 62.76 L659.76 62.76 L659.51 63.22 L659.11 63.69 L658.52 64.18 L657.88 64.56 L657.88 65.31 L658.34 65.1 L658.88 64.79 L659.26 64.52 L659.49 64.29 L659.49 69.2Z" fill="#1c1c1c" stroke="#1c1c1c" stroke-width="0.05"/>
<path d="M52.5 237.1 L52.5 229.3 L51.91 229.3 L51.6 229.86 L51.11 230.43 L50.4 231.02 L49.63 231.49 L49.63 232.39 L50.18 232.13 L50.84 231.76 L51.3 231.43 L51.58 231.15 L51.58 237.1Z" fill="#1c1c1c" stroke="#1c1c1c" stroke-width="0.25"/>
<path d="M40.04 280.96 L40.04 273.16 L39.45 273.16 L39.15 273.72 L38.66 274.29 L37.95 274.88 L37.18 275.35 L37.18 276.25 L37.73 275.99 L38.39 275.62 L38.84 275.29 L39.13 275.01 L39.13 280.96Z" fill="#1c1c1c" stroke="#1c1c1c" stroke-width="0.25"/>
<path d="M52.48 280.96 L52.48 273.16 L51.89 273.16 L51.59 273.72 L51.1 274.29 L50.39 274.88 L49.61 275.35 L49.61 276.25 L50.17 275.99 L50.82 275.62 L51.28 275.29 L51.56 275.01 L51.56 280.96Z" fill="#1c1c1c" stroke="#1c1c1c" stroke-width="0.25"/>
<path d="M65.5 276.76 L65.5 271.75 L65.12 271.75 L64.92 272.11 L64.61 272.48 L64.15 272.85 L63.66 273.15 L63.66 273.74 L64.01 273.57 L64.43 273.33 L64.73 273.12 L64.91 272.94 L64.91 276.76Z" fill="#1c1c1c" stroke="#1c1c1c" stroke-width="0.25"/>
<path d="M136.09 307.6 L136.09 299.8 L135.5 299.8 L135.19 300.36 L134.7 300.93 L133.99 301.52 L133.22 301.99 L133.22 302.89 L133.78 302.63 L134.43 302.26 L134.89 301.93 L135.17 301.65 L135.17 307.6Z" fill="#1c1c1c" stroke="#1c1c1c" stroke-width="0.25"/>
<path d="M201.48 307.6 L201.48 299.8 L200.89 299.8 L200.58 300.36 L200.09 300.93 L199.38 301.52 L198.61 301.99 L198.61 302.89 L199.17 302.63 L199.82 302.26 L200.28 301.93 L200.56 301.65 L200.56 307.6Z" fill="#1c1c1c" stroke="#1c1c1c" stroke-width="0.25"/>
<path d="M204.55 261.3 L204.55 254.86 L204.06 254.86 L203.81 255.32 L203.4 255.79 L202.82 256.28 L202.18 256.66 L202.18 257.41 L202.64 257.2 L203.18 256.89 L203.56 256.62 L203.79 256.39 L203.79 261.3Z" fill="#1c1c1c" stroke="#1c1c1c" stroke-width="0.05"/>
<path d="M204.55 271.9 L204.55 265.46 L204.06 265.46 L203.81 265.92 L203.4 266.39 L202.82 266.88 L202.18 267.26 L202.18 268.01 L202.64 267.8 L203.18 267.49 L203.56 267.22 L203.79 266.99 L203.79 271.9Z" fill="#1c1c1c" stroke="#1c1c1c" stroke-width="0.05"/>
<path d="M20.86 175.5 L20.86 165.26 L19.29 165.26 L18.86 166.03 L17.86 166.89 L16.86 167.46 L15.86 167.84 L15.86 169.64 L17 169.21 L18 168.64 L18.89 167.99 L18.89 175.5Z" fill="#000" stroke="#000" stroke-width="0"/>
<path d="M280.2 237.1 L280.2 229.3 L279.61 229.3 L279.3 229.86 L278.81 230.43 L278.1 231.02 L277.33 231.49 L277.33 232.39 L277.88 232.13 L278.54 231.76 L279 231.43 L279.28 231.15 L279.28 237.1Z" fill="#1c1c1c" stroke="#1c1c1c" stroke-width="0.25"/>
<path d="M267.74 280.96 L267.74 273.16 L267.15 273.16 L266.85 273.72 L266.36 274.29 L265.65 274.88 L264.88 275.35 L264.88 276.25 L265.43 275.99 L266.09 275.62 L266.54 275.29 L266.83 275.01 L266.83 280.96Z" fill="#1c1c1c" stroke="#1c1c1c" stroke-width="0.25"/>
<path d="M280.18 280.96 L280.18 273.16 L279.59 273.16 L279.29 273.72 L278.8 274.29 L278.09 274.88 L277.31 275.35 L277.31 276.25 L277.87 275.99 L278.52 275.62 L278.98 275.29 L279.26 275.01 L279.26 280.96Z" fill="#1c1c1c" stroke="#1c1c1c" stroke-width="0.25"/>
<path d="M293.2 276.76 L293.2 271.75 L292.82 271.75 L292.62 272.11 L292.31 272.48 L291.85 272.85 L291.36 273.15 L291.36 273.74 L291.71 273.57 L292.13 273.33 L292.43 273.12 L292.61 272.94 L292.61 276.76Z" fill="#1c1c1c" stroke="#1c1c1c" stroke-width="0.25"/>
<path d="M363.74 307.6 L363.74 299.8 L363.15 299.8 L362.84 300.36 L362.35 300.93 L361.64 301.52 L360.87 301.99 L360.87 302.89 L361.43 302.63 L362.08 302.26 L362.54 301.93 L362.82 301.65 L362.82 307.6Z" fill="#1c1c1c" stroke="#1c1c1c" stroke-width="0.25"/>
<path d="M429.1 307.6 L429.1 299.8 L428.51 299.8 L428.2 300.36 L427.71 300.93 L427 301.52 L426.23 301.99 L426.23 302.89 L426.79 302.63 L427.44 302.26 L427.9 301.93 L428.18 301.65 L428.18 307.6Z" fill="#1c1c1c" stroke="#1c1c1c" stroke-width="0.25"/>
<path d="M431.25 269 L431.25 262.56 L430.76 262.56 L430.51 263.02 L430.1 263.49 L429.52 263.98 L428.88 264.37 L428.88 265.11 L429.34 264.9 L429.88 264.59 L430.26 264.32 L430.49 264.09 L430.49 269Z" fill="#1c1c1c" stroke="#1c1c1c" stroke-width="0.05"/>
<path d="M431.25 279.7 L431.25 273.26 L430.76 273.26 L430.51 273.72 L430.1 274.19 L429.52 274.68 L428.88 275.07 L428.88 275.81 L429.34 275.6 L429.88 275.29 L430.26 275.02 L430.49 274.79 L430.49 279.7Z" fill="#1c1c1c" stroke="#1c1c1c" stroke-width="0.05"/>
<path d="M508.4 237.1 L508.4 229.3 L507.81 229.3 L507.5 229.86 L507.01 230.43 L506.3 231.02 L505.53 231.49 L505.53 232.39 L506.08 232.13 L506.74 231.76 L507.2 231.43 L507.48 231.15 L507.48 237.1Z" fill="#1c1c1c" stroke="#1c1c1c" stroke-width="0.25"/>
<path d="M495.94 280.96 L495.94 273.16 L495.35 273.16 L495.05 273.72 L494.56 274.29 L493.85 274.88 L493.08 275.35 L493.08 276.25 L493.63 275.99 L494.29 275.62 L494.74 275.29 L495.03 275.01 L495.03 280.96Z" fill="#1c1c1c" stroke="#1c1c1c" stroke-width="0.25"/>
<path d="M508.38 280.96 L508.38 273.16 L507.79 273.16 L507.49 273.72 L507 274.29 L506.29 274.88 L505.51 275.35 L505.51 276.25 L506.07 275.99 L506.72 275.62 L507.18 275.29 L507.46 275.01 L507.46 280.96Z" fill="#1c1c1c" stroke="#1c1c1c" stroke-width="0.25"/>
<path d="M521.4 276.76 L521.4 271.75 L521.02 271.75 L520.82 272.11 L520.51 272.48 L520.05 272.85 L519.56 273.15 L519.56 273.74 L519.91 273.57 L520.33 273.33 L520.63 273.12 L520.81 272.94 L520.81 276.76Z" fill="#1c1c1c" stroke="#1c1c1c" stroke-width="0.25"/>
<path d="M591.94 307.6 L591.94 299.8 L591.35 299.8 L591.04 300.36 L590.55 300.93 L589.84 301.52 L589.07 301.99 L589.07 302.89 L589.63 302.63 L590.28 302.26 L590.74 301.93 L591.02 301.65 L591.02 307.6Z" fill="#1c1c1c" stroke="#1c1c1c" stroke-width="0.25"/>
<path d="M657.3 307.6 L657.3 299.8 L656.71 299.8 L656.4 300.36 L655.91 300.93 L655.2 301.52 L654.43 301.99 L654.43 302.89 L654.99 302.63 L655.64 302.26 L656.1 301.93 L656.38 301.65 L656.38 307.6Z" fill="#1c1c1c" stroke="#1c1c1c" stroke-width="0.25"/>
<path d="M661.25 238.9 L661.25 232.46 L660.76 232.46 L660.51 232.92 L660.11 233.39 L659.52 233.88 L658.88 234.26 L658.88 235.01 L659.34 234.8 L659.88 234.49 L660.26 234.22 L660.49 233.99 L660.49 238.9Z" fill="#1c1c1c" stroke="#1c1c1c" stroke-width="0.05"/>
<path d="M661.25 249.6 L661.25 243.16 L660.76 243.16 L660.51 243.62 L660.11 244.09 L659.52 244.58 L658.88 244.97 L658.88 245.71 L659.34 245.5 L659.88 245.19 L660.26 244.92 L660.49 244.69 L660.49 249.6Z" fill="#1c1c1c" stroke="#1c1c1c" stroke-width="0.05"/>
<path d="M181.91 450.8 L181.91 442.49 L181.28 442.49 L180.96 443.1 L180.44 443.7 L179.68 444.33 L178.86 444.83 L178.86 445.79 L179.45 445.51 L180.15 445.12 L180.63 444.77 L180.93 444.47 L180.93 450.8Z" fill="#a975ee" stroke="#a975ee" stroke-width="0"/>
<path d="M52.5 354.34 L52.5 346.54 L51.91 346.54 L51.6 347.1 L51.11 347.67 L50.4 348.26 L49.63 348.73 L49.63 349.63 L50.18 349.37 L50.84 349 L51.3 348.67 L51.58 348.39 L51.58 354.34Z" fill="#1c1c1c" stroke="#1c1c1c" stroke-width="0.25"/>
<path d="M52.5 424.11 L52.5 416.31 L51.91 416.31 L51.6 416.87 L51.11 417.44 L50.4 418.03 L49.63 418.5 L49.63 419.4 L50.18 419.14 L50.84 418.77 L51.3 418.44 L51.58 418.16 L51.58 424.11Z" fill="#1c1c1c" stroke="#1c1c1c" stroke-width="0.25"/>
<path d="M52.5 459 L52.5 451.2 L51.91 451.2 L51.6 451.76 L51.11 452.33 L50.4 452.92 L49.63 453.39 L49.63 454.29 L50.18 454.03 L50.84 453.66 L51.3 453.33 L51.58 453.05 L51.58 459Z" fill="#1c1c1c" stroke="#1c1c1c" stroke-width="0.25"/>
<path d="M114.29 467.6 L114.29 459.8 L113.7 459.8 L113.39 460.36 L112.9 460.93 L112.19 461.52 L111.42 461.99 L111.42 462.89 L111.98 462.63 L112.63 462.26 L113.09 461.93 L113.37 461.65 L113.37 467.6Z" fill="#1c1c1c" stroke="#1c1c1c" stroke-width="0.25"/>
<path d="M157.89 467.6 L157.89 459.8 L157.3 459.8 L156.99 460.36 L156.5 460.93 L155.79 461.52 L155.02 461.99 L155.02 462.89 L155.58 462.63 L156.23 462.26 L156.69 461.93 L156.97 461.65 L156.97 467.6Z" fill="#1c1c1c" stroke="#1c1c1c" stroke-width="0.25"/>
<path d="M201.48 467.6 L201.48 459.8 L200.89 459.8 L200.58 460.36 L200.09 460.93 L199.38 461.52 L198.61 461.99 L198.61 462.89 L199.17 462.63 L199.82 462.26 L200.28 461.93 L200.56 461.65 L200.56 467.6Z" fill="#1c1c1c" stroke="#1c1c1c" stroke-width="0.25"/>
<path d="M92.45 430.3 L92.45 423.86 L91.96 423.86 L91.71 424.32 L91.3 424.79 L90.72 425.28 L90.08 425.66 L90.08 426.41 L90.54 426.2 L91.08 425.89 L91.46 425.62 L91.69 425.39 L91.69 430.3Z" fill="#1c1c1c" stroke="#1c1c1c" stroke-width="0.05"/>
<path d="M92.45 440.8 L92.45 434.36 L91.96 434.36 L91.71 434.82 L91.3 435.29 L90.72 435.78 L90.08 436.16 L90.08 436.91 L90.54 436.7 L91.08 436.39 L91.46 436.12 L91.69 435.89 L91.69 440.8Z" fill="#1c1c1c" stroke="#1c1c1c" stroke-width="0.05"/>
<path d="M17.76 337.1 L17.76 326.86 L16.19 326.86 L15.76 327.63 L14.76 328.49 L13.76 329.06 L12.76 329.44 L12.76 331.24 L13.9 330.81 L14.9 330.24 L15.79 329.59 L15.79 337.1Z" fill="#000" stroke="#000" stroke-width="0"/>
<path d="M402.81 452 L402.81 443.69 L402.18 443.69 L401.86 444.3 L401.34 444.9 L400.58 445.53 L399.76 446.03 L399.76 446.99 L400.35 446.71 L401.05 446.32 L401.53 445.97 L401.83 445.67 L401.83 452Z" fill="#a975ee" stroke="#a975ee" stroke-width="0"/>
<path d="M280.2 354.34 L280.2 346.54 L279.61 346.54 L279.3 347.1 L278.81 347.67 L278.1 348.26 L277.33 348.73 L277.33 349.63 L277.88 349.37 L278.54 349 L279 348.67 L279.28 348.39 L279.28 354.34Z" fill="#1c1c1c" stroke="#1c1c1c" stroke-width="0.25"/>
<path d="M280.2 424.11 L280.2 416.31 L279.61 416.31 L279.3 416.87 L278.81 417.44 L278.1 418.03 L277.33 418.5 L277.33 419.4 L277.88 419.14 L278.54 418.77 L279 418.44 L279.28 418.16 L279.28 424.11Z" fill="#1c1c1c" stroke="#1c1c1c" stroke-width="0.25"/>
<path d="M280.2 459 L280.2 451.2 L279.61 451.2 L279.3 451.76 L278.81 452.33 L278.1 452.92 L277.33 453.39 L277.33 454.29 L277.88 454.03 L278.54 453.66 L279 453.33 L279.28 453.05 L279.28 459Z" fill="#1c1c1c" stroke="#1c1c1c" stroke-width="0.25"/>
<path d="M341.96 467.6 L341.96 459.8 L341.37 459.8 L341.06 460.36 L340.57 460.93 L339.86 461.52 L339.09 461.99 L339.09 462.89 L339.65 462.63 L340.3 462.26 L340.76 461.93 L341.04 461.65 L341.04 467.6Z" fill="#1c1c1c" stroke="#1c1c1c" stroke-width="0.25"/>
<path d="M385.53 467.6 L385.53 459.8 L384.94 459.8 L384.63 460.36 L384.14 460.93 L383.43 461.52 L382.66 461.99 L382.66 462.89 L383.22 462.63 L383.87 462.26 L384.33 461.93 L384.61 461.65 L384.61 467.6Z" fill="#1c1c1c" stroke="#1c1c1c" stroke-width="0.25"/>
<path d="M429.1 467.6 L429.1 459.8 L428.51 459.8 L428.2 460.36 L427.71 460.93 L427 461.52 L426.23 461.99 L426.23 462.89 L426.79 462.63 L427.44 462.26 L427.9 461.93 L428.18 461.65 L428.18 467.6Z" fill="#1c1c1c" stroke="#1c1c1c" stroke-width="0.25"/>
<path d="M320.45 430.9 L320.45 424.46 L319.96 424.46 L319.71 424.92 L319.31 425.39 L318.72 425.88 L318.08 426.26 L318.08 427.01 L318.54 426.8 L319.08 426.49 L319.46 426.22 L319.69 425.99 L319.69 430.9Z" fill="#1c1c1c" stroke="#1c1c1c" stroke-width="0.05"/>
<path d="M320.45 441.5 L320.45 435.06 L319.96 435.06 L319.71 435.52 L319.31 435.99 L318.72 436.48 L318.08 436.87 L318.08 437.61 L318.54 437.4 L319.08 437.09 L319.46 436.82 L319.69 436.59 L319.69 441.5Z" fill="#1c1c1c" stroke="#1c1c1c" stroke-width="0.05"/>
<path d="M620.71 452 L620.71 443.69 L620.08 443.69 L619.76 444.3 L619.24 444.9 L618.48 445.53 L617.66 446.03 L617.66 446.99 L618.25 446.71 L618.95 446.32 L619.43 445.97 L619.73 445.67 L619.73 452Z" fill="#a975ee" stroke="#a975ee" stroke-width="0"/>
<path d="M508.4 354.34 L508.4 346.54 L507.81 346.54 L507.5 347.1 L507.01 347.67 L506.3 348.26 L505.53 348.73 L505.53 349.63 L506.08 349.37 L506.74 349 L507.2 348.67 L507.48 348.39 L507.48 354.34Z" fill="#1c1c1c" stroke="#1c1c1c" stroke-width="0.25"/>
<path d="M508.4 424.11 L508.4 416.31 L507.81 416.31 L507.5 416.87 L507.01 417.44 L506.3 418.03 L505.53 418.5 L505.53 419.4 L506.08 419.14 L506.74 418.77 L507.2 418.44 L507.48 418.16 L507.48 424.11Z" fill="#1c1c1c" stroke="#1c1c1c" stroke-width="0.25"/>
<path d="M508.4 459 L508.4 451.2 L507.81 451.2 L507.5 451.76 L507.01 452.33 L506.3 452.92 L505.53 453.39 L505.53 454.29 L506.08 454.03 L506.74 453.66 L507.2 453.33 L507.48 453.05 L507.48 459Z" fill="#1c1c1c" stroke="#1c1c1c" stroke-width="0.25"/>
<path d="M570.16 467.6 L570.16 459.8 L569.57 459.8 L569.26 460.36 L568.77 460.93 L568.06 461.52 L567.29 461.99 L567.29 462.89 L567.85 462.63 L568.5 462.26 L568.96 461.93 L569.24 461.65 L569.24 467.6Z" fill="#1c1c1c" stroke="#1c1c1c" stroke-width="0.25"/>
<path d="M613.73 467.6 L613.73 459.8 L613.14 459.8 L612.83 460.36 L612.34 460.93 L611.63 461.52 L610.86 461.99 L610.86 462.89 L611.42 462.63 L612.07 462.26 L612.53 461.93 L612.81 461.65 L612.81 467.6Z" fill="#1c1c1c" stroke="#1c1c1c" stroke-width="0.25"/>
<path d="M657.3 467.6 L657.3 459.8 L656.71 459.8 L656.4 460.36 L655.91 460.93 L655.2 461.52 L654.43 461.99 L654.43 462.89 L654.99 462.63 L655.64 462.26 L656.1 461.93 L656.38 461.65 L656.38 467.6Z" fill="#1c1c1c" stroke="#1c1c1c" stroke-width="0.25"/>
<path d="M548.65 430.9 L548.65 424.46 L548.16 424.46 L547.91 424.92 L547.5 425.39 L546.92 425.88 L546.28 426.26 L546.28 427.01 L546.74 426.8 L547.28 426.49 L547.66 426.22 L547.89 425.99 L547.89 430.9Z" fill="#1c1c1c" stroke="#1c1c1c" stroke-width="0.05"/>
<path d="M548.65 441.4 L548.65 434.96 L548.16 434.96 L547.91 435.42 L547.5 435.89 L546.92 436.38 L546.28 436.76 L546.28 437.51 L546.74 437.3 L547.28 436.99 L547.66 436.72 L547.89 436.49 L547.89 441.4Z" fill="#1c1c1c" stroke="#1c1c1c" stroke-width="0.05"/>
</svg>
</body></html>
